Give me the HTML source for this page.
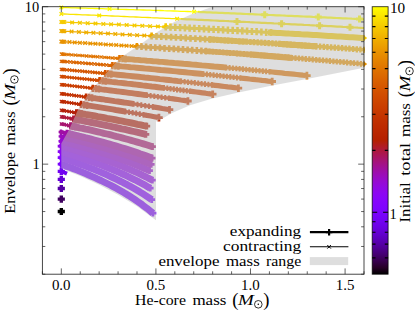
<!DOCTYPE html>
<html><head><meta charset="utf-8"><style>html,body{margin:0;padding:0;background:#fff}</style></head><body><svg width="415" height="311" viewBox="0 0 415 311" style="display:block">
<rect width="415" height="311" fill="#fff"/>
<defs><clipPath id="ax"><rect x="42.4" y="4.7" width="322.1" height="269.5"/></clipPath></defs>
<g clip-path="url(#ax)">
<path d="M59.4 162.2L63.2 166.0M59.4 166.0L63.2 162.2" stroke="#7b03fd" stroke-width="1.0" fill="none"/>
<path d="M59.4 155.7L63.2 159.5M59.4 159.5L63.2 155.7" stroke="#8305fe" stroke-width="1.0" fill="none"/>
<path d="M59.4 149.8L63.2 153.6M59.4 153.6L63.2 149.8" stroke="#8a06f6" stroke-width="1.0" fill="none"/>
<path d="M59.4 144.3L63.2 148.1M59.4 148.1L63.2 144.3" stroke="#9008e7" stroke-width="1.0" fill="none"/>
<polyline points="61.3,141.1 61.3,141.1 61.4,141.2 61.4,141.2 61.4,141.2 61.5,141.2 61.5,141.2 61.5,141.2 61.5,141.2 61.6,141.2 61.6,141.2 61.6,141.2 61.7,141.2 61.7,141.2 61.7,141.2 61.7,141.2 61.8,141.3 61.8,141.3 61.8,141.3 61.8,141.3 61.9,141.3 61.9,141.3 61.9,141.3 62.0,141.3 62.0,141.3 62.0,141.3 62.0,141.3 62.1,141.3 62.1,141.3 62.1,141.3 62.2,141.4 62.2,141.4 62.2,141.4 62.2,141.4 62.3,141.4 62.3,141.4 62.3,141.4 62.3,141.4 62.4,141.4 62.4,141.4 62.4,141.4" fill="none" stroke="#950ad4" stroke-width="1.3"/>
<path d="M59.8 139.6L62.9 142.7M59.8 142.7L62.9 139.6" stroke="#950ad4" stroke-width="1.1" fill="none"/>
<polyline points="61.3,136.4 61.4,136.4 61.5,136.5 61.6,136.5 61.7,136.5 61.7,136.5 61.8,136.5 61.9,136.6 62.0,136.6 62.1,136.6 62.2,136.6 62.2,136.6 62.3,136.7 62.4,136.7 62.5,136.7 62.6,136.7 62.7,136.7 62.7,136.8 62.8,136.8 62.9,136.8 63.0,136.8 63.1,136.8 63.2,136.9 63.2,136.9 63.3,136.9 63.4,136.9 63.5,136.9 63.6,137.0 63.7,137.0 63.7,137.0 63.8,137.0 63.9,137.0 64.0,137.1 64.1,137.1 64.2,137.1 64.2,137.1 64.3,137.2 64.4,137.2 64.5,137.2 64.6,137.2 64.7,137.2" fill="none" stroke="#9a0dbd" stroke-width="1.3"/>
<path d="M59.8 134.9L62.9 138.0M59.8 138.0L62.9 134.9" stroke="#9a0dbd" stroke-width="1.1" fill="none"/>
<path d="M60.7 135.1L63.8 138.2M60.7 138.2L63.8 135.1" stroke="#9a0dbd" stroke-width="1.1" fill="none"/>
<path d="M61.7 135.3L64.8 138.4M61.7 138.4L64.8 135.3" stroke="#9a0dbd" stroke-width="1.1" fill="none"/>
<path d="M62.8 135.6L65.9 138.7M62.8 138.7L65.9 135.6" stroke="#9a0dbd" stroke-width="1.1" fill="none"/>
<path d="M63.1 135.7L66.2 138.8M63.1 138.8L66.2 135.7" stroke="#9a0dbd" stroke-width="1.1" fill="none"/>
<polyline points="61.3,132.0 61.5,132.0 61.6,132.1 61.7,132.1 61.9,132.1 62.0,132.2 62.2,132.2 62.3,132.2 62.4,132.3 62.6,132.3 62.7,132.3 62.8,132.4 63.0,132.4 63.1,132.4 63.3,132.5 63.4,132.5 63.5,132.5 63.7,132.5 63.8,132.6 64.0,132.6 64.1,132.6 64.2,132.7 64.4,132.7 64.5,132.7 64.7,132.8 64.8,132.8 64.9,132.8 65.1,132.9 65.2,132.9 65.4,132.9 65.5,133.0 65.6,133.0 65.8,133.0 65.9,133.1 66.0,133.1 66.2,133.1 66.3,133.2 66.5,133.2 66.6,133.2 66.7,133.2 66.9,133.3" fill="none" stroke="#9f0fa5" stroke-width="1.3"/>
<path d="M59.8 130.5L62.9 133.6M59.8 133.6L62.9 130.5" stroke="#9f0fa5" stroke-width="1.1" fill="none"/>
<path d="M60.7 130.7L63.8 133.8M60.7 133.8L63.8 130.7" stroke="#9f0fa5" stroke-width="1.1" fill="none"/>
<path d="M61.7 130.9L64.8 134.0M61.7 134.0L64.8 130.9" stroke="#9f0fa5" stroke-width="1.1" fill="none"/>
<path d="M62.8 131.1L65.9 134.2M62.8 134.2L65.9 131.1" stroke="#9f0fa5" stroke-width="1.1" fill="none"/>
<path d="M64.1 131.4L67.2 134.5M64.1 134.5L67.2 131.4" stroke="#9f0fa5" stroke-width="1.1" fill="none"/>
<path d="M65.3 131.7L68.4 134.8M65.3 134.8L68.4 131.7" stroke="#9f0fa5" stroke-width="1.1" fill="none"/>
<polyline points="61.3,124.0 61.5,124.0 61.8,124.0 62.0,124.1 62.2,124.1 62.5,124.2 62.7,124.2 62.9,124.3 63.2,124.3 63.4,124.4 63.6,124.4 63.8,124.5 64.1,124.5 64.3,124.6 64.5,124.6 64.8,124.7 65.0,124.7 65.2,124.7 65.5,124.8 65.7,124.8 65.9,124.9 66.1,124.9 66.4,125.0 66.6,125.0 66.8,125.1 67.1,125.1 67.3,125.2 67.5,125.2 67.8,125.3 68.0,125.3 68.2,125.4 68.4,125.4 68.7,125.5 68.9,125.5 69.1,125.5 69.4,125.6 69.6,125.6 69.8,125.7 70.1,125.7 70.3,125.8 70.5,125.8" fill="none" stroke="#a71470" stroke-width="1.3"/>
<path d="M59.8 122.4L62.9 125.5M59.8 125.5L62.9 122.4" stroke="#a71470" stroke-width="1.1" fill="none"/>
<path d="M60.7 122.6L63.8 125.7M60.7 125.7L63.8 122.6" stroke="#a71470" stroke-width="1.1" fill="none"/>
<path d="M61.7 122.8L64.8 125.9M61.7 125.9L64.8 122.8" stroke="#a71470" stroke-width="1.1" fill="none"/>
<path d="M62.8 123.0L65.9 126.1M62.8 126.1L65.9 123.0" stroke="#a71470" stroke-width="1.1" fill="none"/>
<path d="M64.8 123.4L67.9 126.5M64.8 126.5L67.9 123.4" stroke="#a71470" stroke-width="1.1" fill="none"/>
<path d="M66.9 123.9L70.0 127.0M66.9 127.0L70.0 123.9" stroke="#a71470" stroke-width="1.1" fill="none"/>
<path d="M69.0 124.3L72.1 127.4M69.0 127.4L72.1 124.3" stroke="#a71470" stroke-width="1.1" fill="none"/>
<polyline points="61.3,116.8 61.6,116.8 61.9,116.9 62.2,116.9 62.5,117.0 62.8,117.0 63.1,117.1 63.4,117.1 63.7,117.2 64.1,117.2 64.4,117.3 64.7,117.4 65.0,117.4 65.3,117.5 65.6,117.5 65.9,117.6 66.2,117.6 66.5,117.7 66.8,117.7 67.1,117.8 67.4,117.9 67.7,117.9 68.0,118.0 68.3,118.0 68.6,118.1 68.9,118.1 69.2,118.2 69.5,118.3 69.8,118.3 70.1,118.4 70.4,118.4 70.7,118.5 71.0,118.5 71.3,118.6 71.6,118.6 71.9,118.7 72.3,118.8 72.6,118.8 72.9,118.9 73.2,118.9 73.5,119.0" fill="none" stroke="#ad193b" stroke-width="1.3"/>
<path d="M59.8 115.2L62.9 118.3M59.8 118.3L62.9 115.2" stroke="#ad193b" stroke-width="1.1" fill="none"/>
<path d="M60.7 115.4L63.8 118.5M60.7 118.5L63.8 115.4" stroke="#ad193b" stroke-width="1.1" fill="none"/>
<path d="M61.7 115.5L64.8 118.6M61.7 118.6L64.8 115.5" stroke="#ad193b" stroke-width="1.1" fill="none"/>
<path d="M62.8 115.8L65.9 118.9M62.8 118.9L65.9 115.8" stroke="#ad193b" stroke-width="1.1" fill="none"/>
<path d="M65.1 116.2L68.2 119.3M65.1 119.3L68.2 116.2" stroke="#ad193b" stroke-width="1.1" fill="none"/>
<path d="M67.4 116.6L70.5 119.7M67.4 119.7L70.5 116.6" stroke="#ad193b" stroke-width="1.1" fill="none"/>
<path d="M69.6 117.0L72.7 120.1M69.6 120.1L72.7 117.0" stroke="#ad193b" stroke-width="1.1" fill="none"/>
<path d="M71.9 117.4L75.0 120.5M71.9 120.5L75.0 117.4" stroke="#ad193b" stroke-width="1.1" fill="none"/>
<polyline points="61.3,110.2 61.7,110.3 62.1,110.4 62.5,110.4 62.8,110.5 63.2,110.5 63.6,110.6 64.0,110.7 64.3,110.7 64.7,110.8 65.1,110.9 65.5,110.9 65.8,111.0 66.2,111.0 66.6,111.1 67.0,111.2 67.4,111.2 67.7,111.3 68.1,111.4 68.5,111.4 68.9,111.5 69.2,111.6 69.6,111.6 70.0,111.7 70.4,111.7 70.8,111.8 71.1,111.9 71.5,111.9 71.9,112.0 72.3,112.1 72.6,112.1 73.0,112.2 73.4,112.3 73.8,112.3 74.2,112.4 74.5,112.4 74.9,112.5 75.3,112.6 75.7,112.6 76.0,112.7 76.4,112.8" fill="none" stroke="#b31f09" stroke-width="1.3"/>
<path d="M59.8 108.7L62.9 111.8M59.8 111.8L62.9 108.7" stroke="#b31f09" stroke-width="1.1" fill="none"/>
<path d="M60.7 108.8L63.8 111.9M60.7 111.9L63.8 108.8" stroke="#b31f09" stroke-width="1.1" fill="none"/>
<path d="M61.7 109.0L64.8 112.1M61.7 112.1L64.8 109.0" stroke="#b31f09" stroke-width="1.1" fill="none"/>
<path d="M62.8 109.2L65.9 112.3M62.8 112.3L65.9 109.2" stroke="#b31f09" stroke-width="1.1" fill="none"/>
<path d="M65.2 109.6L68.3 112.7M65.2 112.7L68.3 109.6" stroke="#b31f09" stroke-width="1.1" fill="none"/>
<path d="M67.6 110.0L70.7 113.1M67.6 113.1L70.7 110.0" stroke="#b31f09" stroke-width="1.1" fill="none"/>
<path d="M70.0 110.4L73.1 113.5M70.0 113.5L73.1 110.4" stroke="#b31f09" stroke-width="1.1" fill="none"/>
<path d="M72.5 110.8L75.6 113.9M72.5 113.9L75.6 110.8" stroke="#b31f09" stroke-width="1.1" fill="none"/>
<path d="M74.9 111.2L78.0 114.3M74.9 114.3L78.0 111.2" stroke="#b31f09" stroke-width="1.1" fill="none"/>
<polyline points="61.3,101.5 61.8,101.6 62.3,101.6 62.8,101.7 63.3,101.8 63.8,101.9 64.3,101.9 64.8,102.0 65.3,102.1 65.8,102.1 66.3,102.2 66.8,102.3 67.3,102.4 67.8,102.4 68.3,102.5 68.8,102.6 69.2,102.7 69.7,102.7 70.2,102.8 70.7,102.9 71.2,102.9 71.7,103.0 72.2,103.1 72.7,103.2 73.2,103.2 73.7,103.3 74.2,103.4 74.7,103.5 75.2,103.5 75.7,103.6 76.2,103.7 76.7,103.8 77.2,103.8 77.7,103.9 78.2,104.0 78.7,104.1 79.2,104.1 79.7,104.2 80.2,104.3 80.6,104.4 81.1,104.4" fill="none" stroke="#bb2800" stroke-width="1.3"/>
<path d="M59.8 99.9L62.9 103.0M59.8 103.0L62.9 99.9" stroke="#bb2800" stroke-width="1.1" fill="none"/>
<path d="M60.7 100.1L63.8 103.2M60.7 103.2L63.8 100.1" stroke="#bb2800" stroke-width="1.1" fill="none"/>
<path d="M61.7 100.2L64.8 103.3M61.7 103.3L64.8 100.2" stroke="#bb2800" stroke-width="1.1" fill="none"/>
<path d="M62.8 100.4L65.9 103.5M62.8 103.5L65.9 100.4" stroke="#bb2800" stroke-width="1.1" fill="none"/>
<path d="M65.2 100.7L68.3 103.8M65.2 103.8L68.3 100.7" stroke="#bb2800" stroke-width="1.1" fill="none"/>
<path d="M67.6 101.1L70.7 104.2M67.6 104.2L70.7 101.1" stroke="#bb2800" stroke-width="1.1" fill="none"/>
<path d="M70.0 101.4L73.1 104.5M70.0 104.5L73.1 101.4" stroke="#bb2800" stroke-width="1.1" fill="none"/>
<path d="M72.4 101.8L75.5 104.9M72.4 104.9L75.5 101.8" stroke="#bb2800" stroke-width="1.1" fill="none"/>
<path d="M74.8 102.2L77.9 105.3M74.8 105.3L77.9 102.2" stroke="#bb2800" stroke-width="1.1" fill="none"/>
<path d="M77.2 102.5L80.3 105.6M77.2 105.6L80.3 102.5" stroke="#bb2800" stroke-width="1.1" fill="none"/>
<path d="M79.6 102.9L82.7 106.0M79.6 106.0L82.7 102.9" stroke="#bb2800" stroke-width="1.1" fill="none"/>
<polyline points="61.3,93.7 61.9,93.8 62.6,93.9 63.2,94.0 63.8,94.1 64.4,94.1 65.0,94.2 65.7,94.3 66.3,94.4 66.9,94.5 67.5,94.5 68.1,94.6 68.7,94.7 69.4,94.8 70.0,94.9 70.6,95.0 71.2,95.0 71.8,95.1 72.5,95.2 73.1,95.3 73.7,95.4 74.3,95.4 74.9,95.5 75.6,95.6 76.2,95.7 76.8,95.8 77.4,95.9 78.0,95.9 78.7,96.0 79.3,96.1 79.9,96.2 80.5,96.3 81.1,96.4 81.8,96.4 82.4,96.5 83.0,96.6 83.6,96.7 84.2,96.8 84.8,96.9 85.5,96.9 86.1,97.0" fill="none" stroke="#c13000" stroke-width="1.3"/>
<path d="M59.8 92.2L62.9 95.3M59.8 95.3L62.9 92.2" stroke="#c13000" stroke-width="1.1" fill="none"/>
<path d="M60.7 92.3L63.8 95.4M60.7 95.4L63.8 92.3" stroke="#c13000" stroke-width="1.1" fill="none"/>
<path d="M61.7 92.4L64.8 95.5M61.7 95.5L64.8 92.4" stroke="#c13000" stroke-width="1.1" fill="none"/>
<path d="M62.8 92.6L65.9 95.7M62.8 95.7L65.9 92.6" stroke="#c13000" stroke-width="1.1" fill="none"/>
<path d="M65.2 92.9L68.3 96.0M65.2 96.0L68.3 92.9" stroke="#c13000" stroke-width="1.1" fill="none"/>
<path d="M67.6 93.2L70.7 96.3M67.6 96.3L70.7 93.2" stroke="#c13000" stroke-width="1.1" fill="none"/>
<path d="M70.0 93.5L73.1 96.6M70.0 96.6L73.1 93.5" stroke="#c13000" stroke-width="1.1" fill="none"/>
<path d="M72.5 93.9L75.6 97.0M72.5 97.0L75.6 93.9" stroke="#c13000" stroke-width="1.1" fill="none"/>
<path d="M74.9 94.2L78.0 97.3M74.9 97.3L78.0 94.2" stroke="#c13000" stroke-width="1.1" fill="none"/>
<path d="M77.3 94.5L80.4 97.6M77.3 97.6L80.4 94.5" stroke="#c13000" stroke-width="1.1" fill="none"/>
<path d="M79.7 94.8L82.8 97.9M79.7 97.9L82.8 94.8" stroke="#c13000" stroke-width="1.1" fill="none"/>
<path d="M82.1 95.2L85.2 98.3M82.1 98.3L85.2 95.2" stroke="#c13000" stroke-width="1.1" fill="none"/>
<path d="M84.5 95.5L87.6 98.6M84.5 98.6L87.6 95.5" stroke="#c13000" stroke-width="1.1" fill="none"/>
<polyline points="61.3,84.6 62.1,84.7 62.9,84.8 63.7,84.9 64.5,85.0 65.2,85.1 66.0,85.1 66.8,85.2 67.6,85.3 68.4,85.4 69.2,85.5 70.0,85.6 70.8,85.7 71.5,85.8 72.3,85.9 73.1,86.0 73.9,86.1 74.7,86.1 75.5,86.2 76.3,86.3 77.0,86.4 77.8,86.5 78.6,86.6 79.4,86.7 80.2,86.8 81.0,86.9 81.8,87.0 82.5,87.1 83.3,87.2 84.1,87.2 84.9,87.3 85.7,87.4 86.5,87.5 87.3,87.6 88.0,87.7 88.8,87.8 89.6,87.9 90.4,88.0 91.2,88.1 92.0,88.2 92.8,88.3" fill="none" stroke="#c93d00" stroke-width="1.3"/>
<path d="M59.8 83.1L62.9 86.2M59.8 86.2L62.9 83.1" stroke="#c93d00" stroke-width="1.1" fill="none"/>
<path d="M60.7 83.2L63.8 86.3M60.7 86.3L63.8 83.2" stroke="#c93d00" stroke-width="1.1" fill="none"/>
<path d="M61.7 83.3L64.8 86.4M61.7 86.4L64.8 83.3" stroke="#c93d00" stroke-width="1.1" fill="none"/>
<path d="M62.8 83.4L65.9 86.5M62.8 86.5L65.9 83.4" stroke="#c93d00" stroke-width="1.1" fill="none"/>
<path d="M65.4 83.7L68.5 86.8M65.4 86.8L68.5 83.7" stroke="#c93d00" stroke-width="1.1" fill="none"/>
<path d="M68.0 84.0L71.1 87.1M68.0 87.1L71.1 84.0" stroke="#c93d00" stroke-width="1.1" fill="none"/>
<path d="M70.5 84.3L73.6 87.4M70.5 87.4L73.6 84.3" stroke="#c93d00" stroke-width="1.1" fill="none"/>
<path d="M73.1 84.6L76.2 87.7M73.1 87.7L76.2 84.6" stroke="#c93d00" stroke-width="1.1" fill="none"/>
<path d="M75.7 84.9L78.8 88.0M75.7 88.0L78.8 84.9" stroke="#c93d00" stroke-width="1.1" fill="none"/>
<path d="M78.3 85.2L81.4 88.3M78.3 88.3L81.4 85.2" stroke="#c93d00" stroke-width="1.1" fill="none"/>
<path d="M80.9 85.5L84.0 88.6M80.9 88.6L84.0 85.5" stroke="#c93d00" stroke-width="1.1" fill="none"/>
<path d="M83.5 85.8L86.6 88.9M83.5 88.9L86.6 85.8" stroke="#c93d00" stroke-width="1.1" fill="none"/>
<path d="M86.0 86.1L89.1 89.2M86.0 89.2L89.1 86.1" stroke="#c93d00" stroke-width="1.1" fill="none"/>
<path d="M88.6 86.4L91.7 89.5M88.6 89.5L91.7 86.4" stroke="#c93d00" stroke-width="1.1" fill="none"/>
<path d="M91.2 86.7L94.3 89.8M91.2 89.8L94.3 86.7" stroke="#c93d00" stroke-width="1.1" fill="none"/>
<polyline points="61.3,76.6 62.3,76.7 63.2,76.8 64.2,76.8 65.1,76.9 66.1,77.0 67.1,77.1 68.0,77.2 69.0,77.3 69.9,77.4 70.9,77.5 71.8,77.6 72.8,77.7 73.8,77.8 74.7,77.9 75.7,78.0 76.6,78.1 77.6,78.2 78.5,78.3 79.5,78.4 80.5,78.5 81.4,78.6 82.4,78.7 83.3,78.8 84.3,78.9 85.2,79.0 86.2,79.1 87.1,79.2 88.1,79.3 89.1,79.4 90.0,79.5 91.0,79.6 91.9,79.7 92.9,79.8 93.8,79.9 94.8,80.0 95.8,80.1 96.7,80.2 97.7,80.3 98.6,80.4 99.6,80.5" fill="none" stroke="#cf4900" stroke-width="1.3"/>
<path d="M59.8 75.0L62.9 78.1M59.8 78.1L62.9 75.0" stroke="#cf4900" stroke-width="1.1" fill="none"/>
<path d="M60.7 75.1L63.8 78.2M60.7 78.2L63.8 75.1" stroke="#cf4900" stroke-width="1.1" fill="none"/>
<path d="M61.7 75.2L64.8 78.3M61.7 78.3L64.8 75.2" stroke="#cf4900" stroke-width="1.1" fill="none"/>
<path d="M62.8 75.3L65.9 78.4M62.8 78.4L65.9 75.3" stroke="#cf4900" stroke-width="1.1" fill="none"/>
<path d="M65.3 75.6L68.4 78.7M65.3 78.7L68.4 75.6" stroke="#cf4900" stroke-width="1.1" fill="none"/>
<path d="M67.8 75.8L70.9 78.9M67.8 78.9L70.9 75.8" stroke="#cf4900" stroke-width="1.1" fill="none"/>
<path d="M70.3 76.1L73.4 79.2M70.3 79.2L73.4 76.1" stroke="#cf4900" stroke-width="1.1" fill="none"/>
<path d="M72.9 76.3L76.0 79.4M72.9 79.4L76.0 76.3" stroke="#cf4900" stroke-width="1.1" fill="none"/>
<path d="M75.4 76.6L78.5 79.7M75.4 79.7L78.5 76.6" stroke="#cf4900" stroke-width="1.1" fill="none"/>
<path d="M77.9 76.9L81.0 80.0M77.9 80.0L81.0 76.9" stroke="#cf4900" stroke-width="1.1" fill="none"/>
<path d="M80.4 77.1L83.5 80.2M80.4 80.2L83.5 77.1" stroke="#cf4900" stroke-width="1.1" fill="none"/>
<path d="M82.9 77.4L86.0 80.5M82.9 80.5L86.0 77.4" stroke="#cf4900" stroke-width="1.1" fill="none"/>
<path d="M85.5 77.6L88.6 80.7M85.5 80.7L88.6 77.6" stroke="#cf4900" stroke-width="1.1" fill="none"/>
<path d="M88.0 77.9L91.1 81.0M88.0 81.0L91.1 77.9" stroke="#cf4900" stroke-width="1.1" fill="none"/>
<path d="M90.5 78.2L93.6 81.3M90.5 81.3L93.6 78.2" stroke="#cf4900" stroke-width="1.1" fill="none"/>
<path d="M93.0 78.4L96.1 81.5M93.0 81.5L96.1 78.4" stroke="#cf4900" stroke-width="1.1" fill="none"/>
<path d="M95.5 78.7L98.6 81.8M95.5 81.8L98.6 78.7" stroke="#cf4900" stroke-width="1.1" fill="none"/>
<path d="M98.0 79.0L101.1 82.1M98.0 82.1L101.1 79.0" stroke="#cf4900" stroke-width="1.1" fill="none"/>
<polyline points="61.3,69.4 62.4,69.5 63.5,69.6 64.6,69.7 65.7,69.8 66.8,69.9 67.9,70.0 69.0,70.1 70.1,70.2 71.2,70.3 72.3,70.4 73.4,70.5 74.5,70.6 75.6,70.7 76.7,70.8 77.8,70.9 78.9,71.0 80.0,71.1 81.1,71.2 82.2,71.3 83.3,71.4 84.4,71.5 85.5,71.6 86.6,71.7 87.7,71.8 88.8,71.9 89.9,72.0 91.0,72.1 92.1,72.2 93.2,72.3 94.3,72.4 95.4,72.5 96.5,72.6 97.6,72.7 98.7,72.8 99.8,72.9 100.9,73.1 102.0,73.2 103.1,73.3 104.2,73.4 105.3,73.5" fill="none" stroke="#d45500" stroke-width="1.3"/>
<path d="M59.8 67.8L62.9 70.9M59.8 70.9L62.9 67.8" stroke="#d45500" stroke-width="1.1" fill="none"/>
<path d="M60.7 67.9L63.8 71.0M60.7 71.0L63.8 67.9" stroke="#d45500" stroke-width="1.1" fill="none"/>
<path d="M61.7 68.0L64.8 71.1M61.7 71.1L64.8 68.0" stroke="#d45500" stroke-width="1.1" fill="none"/>
<path d="M62.8 68.1L65.9 71.2M62.8 71.2L65.9 68.1" stroke="#d45500" stroke-width="1.1" fill="none"/>
<path d="M65.4 68.3L68.5 71.4M65.4 71.4L68.5 68.3" stroke="#d45500" stroke-width="1.1" fill="none"/>
<path d="M67.9 68.5L71.0 71.6M67.9 71.6L71.0 68.5" stroke="#d45500" stroke-width="1.1" fill="none"/>
<path d="M70.5 68.8L73.6 71.9M70.5 71.9L73.6 68.8" stroke="#d45500" stroke-width="1.1" fill="none"/>
<path d="M73.0 69.0L76.1 72.1M73.0 72.1L76.1 69.0" stroke="#d45500" stroke-width="1.1" fill="none"/>
<path d="M75.6 69.3L78.7 72.4M75.6 72.4L78.7 69.3" stroke="#d45500" stroke-width="1.1" fill="none"/>
<path d="M78.2 69.5L81.3 72.6M78.2 72.6L81.3 69.5" stroke="#d45500" stroke-width="1.1" fill="none"/>
<path d="M80.7 69.7L83.8 72.8M80.7 72.8L83.8 69.7" stroke="#d45500" stroke-width="1.1" fill="none"/>
<path d="M83.3 70.0L86.4 73.1M83.3 73.1L86.4 70.0" stroke="#d45500" stroke-width="1.1" fill="none"/>
<path d="M85.9 70.2L89.0 73.3M85.9 73.3L89.0 70.2" stroke="#d45500" stroke-width="1.1" fill="none"/>
<path d="M88.4 70.5L91.5 73.6M88.4 73.6L91.5 70.5" stroke="#d45500" stroke-width="1.1" fill="none"/>
<path d="M91.0 70.7L94.1 73.8M91.0 73.8L94.1 70.7" stroke="#d45500" stroke-width="1.1" fill="none"/>
<path d="M93.5 70.9L96.6 74.0M93.5 74.0L96.6 70.9" stroke="#d45500" stroke-width="1.1" fill="none"/>
<path d="M96.1 71.2L99.2 74.3M96.1 74.3L99.2 71.2" stroke="#d45500" stroke-width="1.1" fill="none"/>
<path d="M98.7 71.4L101.8 74.5M98.7 74.5L101.8 71.4" stroke="#d45500" stroke-width="1.1" fill="none"/>
<path d="M101.2 71.7L104.3 74.8M101.2 74.8L104.3 71.7" stroke="#d45500" stroke-width="1.1" fill="none"/>
<path d="M103.8 71.9L106.9 75.0M103.8 75.0L106.9 71.9" stroke="#d45500" stroke-width="1.1" fill="none"/>
<polyline points="61.3,61.3 62.6,61.4 63.9,61.5 65.2,61.6 66.4,61.7 67.7,61.8 69.0,61.9 70.3,62.0 71.5,62.1 72.8,62.2 74.1,62.3 75.4,62.4 76.7,62.5 77.9,62.7 79.2,62.8 80.5,62.9 81.8,63.0 83.0,63.1 84.3,63.2 85.6,63.3 86.9,63.4 88.2,63.5 89.4,63.6 90.7,63.7 92.0,63.8 93.3,63.9 94.5,64.0 95.8,64.1 97.1,64.3 98.4,64.4 99.7,64.5 100.9,64.6 102.2,64.7 103.5,64.8 104.8,64.9 106.0,65.0 107.3,65.1 108.6,65.2 109.9,65.3 111.2,65.5 112.4,65.6" fill="none" stroke="#da6500" stroke-width="1.3"/>
<path d="M59.8 59.8L62.9 62.9M59.8 62.9L62.9 59.8" stroke="#da6500" stroke-width="1.1" fill="none"/>
<path d="M60.7 59.8L63.8 62.9M60.7 62.9L63.8 59.8" stroke="#da6500" stroke-width="1.1" fill="none"/>
<path d="M61.7 59.9L64.8 63.0M61.7 63.0L64.8 59.9" stroke="#da6500" stroke-width="1.1" fill="none"/>
<path d="M62.8 60.0L65.9 63.1M62.8 63.1L65.9 60.0" stroke="#da6500" stroke-width="1.1" fill="none"/>
<path d="M65.8 60.2L68.9 63.3M65.8 63.3L68.9 60.2" stroke="#da6500" stroke-width="1.1" fill="none"/>
<path d="M68.8 60.5L71.9 63.6M68.8 63.6L71.9 60.5" stroke="#da6500" stroke-width="1.1" fill="none"/>
<path d="M71.8 60.7L74.9 63.8M71.8 63.8L74.9 60.7" stroke="#da6500" stroke-width="1.1" fill="none"/>
<path d="M74.8 61.0L77.9 64.1M74.8 64.1L77.9 61.0" stroke="#da6500" stroke-width="1.1" fill="none"/>
<path d="M77.8 61.2L80.9 64.3M77.8 64.3L80.9 61.2" stroke="#da6500" stroke-width="1.1" fill="none"/>
<path d="M80.8 61.5L83.9 64.6M80.8 64.6L83.9 61.5" stroke="#da6500" stroke-width="1.1" fill="none"/>
<path d="M83.8 61.7L86.9 64.8M83.8 64.8L86.9 61.7" stroke="#da6500" stroke-width="1.1" fill="none"/>
<path d="M86.8 62.0L89.9 65.1M86.8 65.1L89.9 62.0" stroke="#da6500" stroke-width="1.1" fill="none"/>
<path d="M89.8 62.2L92.9 65.3M89.8 65.3L92.9 62.2" stroke="#da6500" stroke-width="1.1" fill="none"/>
<path d="M92.9 62.5L96.0 65.6M92.9 65.6L96.0 62.5" stroke="#da6500" stroke-width="1.1" fill="none"/>
<path d="M95.9 62.7L99.0 65.8M95.9 65.8L99.0 62.7" stroke="#da6500" stroke-width="1.1" fill="none"/>
<path d="M98.9 63.0L102.0 66.1M98.9 66.1L102.0 63.0" stroke="#da6500" stroke-width="1.1" fill="none"/>
<path d="M101.9 63.2L105.0 66.3M101.9 66.3L105.0 63.2" stroke="#da6500" stroke-width="1.1" fill="none"/>
<path d="M104.9 63.5L108.0 66.6M104.9 66.6L108.0 63.5" stroke="#da6500" stroke-width="1.1" fill="none"/>
<path d="M107.9 63.8L111.0 66.9M107.9 66.9L111.0 63.8" stroke="#da6500" stroke-width="1.1" fill="none"/>
<path d="M110.9 64.0L114.0 67.1M110.9 67.1L114.0 64.0" stroke="#da6500" stroke-width="1.1" fill="none"/>
<polyline points="61.3,54.1 62.8,54.2 64.2,54.3 65.7,54.4 67.1,54.5 68.6,54.6 70.1,54.7 71.5,54.8 73.0,54.9 74.4,55.1 75.9,55.2 77.3,55.3 78.8,55.4 80.2,55.5 81.7,55.6 83.1,55.7 84.6,55.8 86.1,55.9 87.5,56.0 89.0,56.1 90.4,56.2 91.9,56.4 93.3,56.5 94.8,56.6 96.2,56.7 97.7,56.8 99.2,56.9 100.6,57.0 102.1,57.1 103.5,57.2 105.0,57.4 106.4,57.5 107.9,57.6 109.3,57.7 110.8,57.8 112.3,57.9 113.7,58.0 115.2,58.1 116.6,58.3 118.1,58.4 119.5,58.5" fill="none" stroke="#e07400" stroke-width="1.3"/>
<path d="M59.8 52.5L62.9 55.6M59.8 55.6L62.9 52.5" stroke="#e07400" stroke-width="1.1" fill="none"/>
<path d="M60.7 52.6L63.8 55.7M60.7 55.7L63.8 52.6" stroke="#e07400" stroke-width="1.1" fill="none"/>
<path d="M61.7 52.7L64.8 55.8M61.7 55.8L64.8 52.7" stroke="#e07400" stroke-width="1.1" fill="none"/>
<path d="M62.8 52.8L65.9 55.9M62.8 55.9L65.9 52.8" stroke="#e07400" stroke-width="1.1" fill="none"/>
<path d="M66.5 53.0L69.6 56.1M66.5 56.1L69.6 53.0" stroke="#e07400" stroke-width="1.1" fill="none"/>
<path d="M70.2 53.3L73.3 56.4M70.2 56.4L73.3 53.3" stroke="#e07400" stroke-width="1.1" fill="none"/>
<path d="M73.8 53.6L76.9 56.7M73.8 56.7L76.9 53.6" stroke="#e07400" stroke-width="1.1" fill="none"/>
<path d="M77.5 53.8L80.6 56.9M77.5 56.9L80.6 53.8" stroke="#e07400" stroke-width="1.1" fill="none"/>
<path d="M81.2 54.1L84.3 57.2M81.2 57.2L84.3 54.1" stroke="#e07400" stroke-width="1.1" fill="none"/>
<path d="M84.9 54.4L88.0 57.5M84.9 57.5L88.0 54.4" stroke="#e07400" stroke-width="1.1" fill="none"/>
<path d="M88.6 54.7L91.7 57.8M88.6 57.8L91.7 54.7" stroke="#e07400" stroke-width="1.1" fill="none"/>
<path d="M92.2 54.9L95.3 58.0M92.2 58.0L95.3 54.9" stroke="#e07400" stroke-width="1.1" fill="none"/>
<path d="M95.9 55.2L99.0 58.3M95.9 58.3L99.0 55.2" stroke="#e07400" stroke-width="1.1" fill="none"/>
<path d="M99.6 55.5L102.7 58.6M99.6 58.6L102.7 55.5" stroke="#e07400" stroke-width="1.1" fill="none"/>
<path d="M103.3 55.8L106.4 58.9M103.3 58.9L106.4 55.8" stroke="#e07400" stroke-width="1.1" fill="none"/>
<path d="M106.9 56.1L110.0 59.2M106.9 59.2L110.0 56.1" stroke="#e07400" stroke-width="1.1" fill="none"/>
<path d="M110.6 56.4L113.7 59.5M110.6 59.5L113.7 56.4" stroke="#e07400" stroke-width="1.1" fill="none"/>
<path d="M114.3 56.6L117.4 59.7M114.3 59.7L117.4 56.6" stroke="#e07400" stroke-width="1.1" fill="none"/>
<path d="M118.0 56.9L121.1 60.0M118.0 60.0L121.1 56.9" stroke="#e07400" stroke-width="1.1" fill="none"/>
<polyline points="61.3,41.6 63.2,41.7 65.1,41.9 67.0,42.0 68.9,42.1 70.8,42.2 72.7,42.3 74.5,42.4 76.4,42.5 78.3,42.7 80.2,42.8 82.1,42.9 84.0,43.0 85.9,43.1 87.8,43.2 89.7,43.4 91.6,43.5 93.4,43.6 95.3,43.7 97.2,43.8 99.1,44.0 101.0,44.1 102.9,44.2 104.8,44.3 106.7,44.4 108.6,44.6 110.5,44.7 112.3,44.8 114.2,44.9 116.1,45.0 118.0,45.2 119.9,45.3 121.8,45.4 123.7,45.5 125.6,45.7 127.5,45.8 129.4,45.9 131.2,46.0 133.1,46.2 135.0,46.3 136.9,46.4" fill="none" stroke="#e89200" stroke-width="1.3"/>
<path d="M59.5 39.8L63.1 43.4M59.5 43.4L63.1 39.8" stroke="#e89200" stroke-width="1.3" fill="none"/>
<path d="M60.5 39.9L64.1 43.5M60.5 43.5L64.1 39.9" stroke="#e89200" stroke-width="1.3" fill="none"/>
<path d="M61.4 39.9L65.0 43.5M61.4 43.5L65.0 39.9" stroke="#e89200" stroke-width="1.3" fill="none"/>
<path d="M62.5 40.0L66.1 43.6M62.5 43.6L66.1 40.0" stroke="#e89200" stroke-width="1.3" fill="none"/>
<path d="M67.7 40.3L71.3 43.9M67.7 43.9L71.3 40.3" stroke="#e89200" stroke-width="1.3" fill="none"/>
<path d="M72.9 40.6L76.5 44.2M72.9 44.2L76.5 40.6" stroke="#e89200" stroke-width="1.3" fill="none"/>
<path d="M78.1 41.0L81.7 44.6M78.1 44.6L81.7 41.0" stroke="#e89200" stroke-width="1.3" fill="none"/>
<path d="M83.3 41.3L86.9 44.9M83.3 44.9L86.9 41.3" stroke="#e89200" stroke-width="1.3" fill="none"/>
<path d="M88.5 41.6L92.1 45.2M88.5 45.2L92.1 41.6" stroke="#e89200" stroke-width="1.3" fill="none"/>
<path d="M93.6 41.9L97.2 45.5M93.6 45.5L97.2 41.9" stroke="#e89200" stroke-width="1.3" fill="none"/>
<path d="M98.8 42.3L102.4 45.9M98.8 45.9L102.4 42.3" stroke="#e89200" stroke-width="1.3" fill="none"/>
<path d="M104.0 42.6L107.6 46.2M104.0 46.2L107.6 42.6" stroke="#e89200" stroke-width="1.3" fill="none"/>
<path d="M109.2 42.9L112.8 46.5M109.2 46.5L112.8 42.9" stroke="#e89200" stroke-width="1.3" fill="none"/>
<path d="M114.4 43.2L118.0 46.8M114.4 46.8L118.0 43.2" stroke="#e89200" stroke-width="1.3" fill="none"/>
<path d="M119.6 43.6L123.2 47.2M119.6 47.2L123.2 43.6" stroke="#e89200" stroke-width="1.3" fill="none"/>
<path d="M124.7 43.9L128.3 47.5M124.7 47.5L128.3 43.9" stroke="#e89200" stroke-width="1.3" fill="none"/>
<path d="M129.9 44.3L133.5 47.9M129.9 47.9L133.5 44.3" stroke="#e89200" stroke-width="1.3" fill="none"/>
<path d="M135.1 44.6L138.7 48.2M135.1 48.2L138.7 44.6" stroke="#e89200" stroke-width="1.3" fill="none"/>
<polyline points="61.3,31.1 63.6,31.2 65.8,31.3 68.1,31.4 70.3,31.6 72.6,31.7 74.9,31.8 77.1,31.9 79.4,32.0 81.6,32.1 83.9,32.3 86.1,32.4 88.4,32.5 90.7,32.6 92.9,32.7 95.2,32.9 97.4,33.0 99.7,33.1 102.0,33.2 104.2,33.4 106.5,33.5 108.7,33.6 111.0,33.7 113.2,33.8 115.5,34.0 117.8,34.1 120.0,34.2 122.3,34.3 124.5,34.5 126.8,34.6 129.0,34.7 131.3,34.8 133.6,35.0 135.8,35.1 138.1,35.2 140.3,35.4 142.6,35.5 144.8,35.6 147.1,35.7 149.4,35.9 151.6,36.0" fill="none" stroke="#efae00" stroke-width="1.3"/>
<path d="M59.5 29.3L63.1 32.9M59.5 32.9L63.1 29.3" stroke="#efae00" stroke-width="1.3" fill="none"/>
<path d="M60.5 29.3L64.1 32.9M60.5 32.9L64.1 29.3" stroke="#efae00" stroke-width="1.3" fill="none"/>
<path d="M61.4 29.4L65.0 33.0M61.4 33.0L65.0 29.4" stroke="#efae00" stroke-width="1.3" fill="none"/>
<path d="M62.5 29.4L66.1 33.0M62.5 33.0L66.1 29.4" stroke="#efae00" stroke-width="1.3" fill="none"/>
<path d="M69.8 29.8L73.4 33.4M69.8 33.4L73.4 29.8" stroke="#efae00" stroke-width="1.3" fill="none"/>
<path d="M77.1 30.2L80.7 33.8M77.1 33.8L80.7 30.2" stroke="#efae00" stroke-width="1.3" fill="none"/>
<path d="M84.4 30.6L88.0 34.2M84.4 34.2L88.0 30.6" stroke="#efae00" stroke-width="1.3" fill="none"/>
<path d="M91.6 31.0L95.2 34.6M91.6 34.6L95.2 31.0" stroke="#efae00" stroke-width="1.3" fill="none"/>
<path d="M98.9 31.4L102.5 35.0M98.9 35.0L102.5 31.4" stroke="#efae00" stroke-width="1.3" fill="none"/>
<path d="M106.2 31.8L109.8 35.4M106.2 35.4L109.8 31.8" stroke="#efae00" stroke-width="1.3" fill="none"/>
<path d="M113.5 32.2L117.1 35.8M113.5 35.8L117.1 32.2" stroke="#efae00" stroke-width="1.3" fill="none"/>
<path d="M120.7 32.6L124.3 36.2M120.7 36.2L124.3 32.6" stroke="#efae00" stroke-width="1.3" fill="none"/>
<path d="M128.0 33.0L131.6 36.6M128.0 36.6L131.6 33.0" stroke="#efae00" stroke-width="1.3" fill="none"/>
<path d="M135.3 33.4L138.9 37.0M135.3 37.0L138.9 33.4" stroke="#efae00" stroke-width="1.3" fill="none"/>
<path d="M142.5 33.8L146.1 37.4M142.5 37.4L146.1 33.8" stroke="#efae00" stroke-width="1.3" fill="none"/>
<path d="M149.8 34.2L153.4 37.8M149.8 37.8L153.4 34.2" stroke="#efae00" stroke-width="1.3" fill="none"/>
<polyline points="61.3,22.0 63.9,22.1 66.5,22.2 69.1,22.3 71.8,22.4 74.4,22.6 77.0,22.7 79.6,22.8 82.2,22.9 84.8,23.0 87.4,23.2 90.0,23.3 92.6,23.4 95.2,23.5 97.9,23.6 100.5,23.8 103.1,23.9 105.7,24.0 108.3,24.1 110.9,24.3 113.5,24.4 116.1,24.5 118.7,24.6 121.3,24.8 124.0,24.9 126.6,25.0 129.2,25.1 131.8,25.3 134.4,25.4 137.0,25.5 139.6,25.6 142.2,25.8 144.8,25.9 147.4,26.0 150.1,26.2 152.7,26.3 155.3,26.4 157.9,26.5 160.5,26.7 163.1,26.8 165.7,26.9" fill="none" stroke="#f5ca00" stroke-width="1.3"/>
<path d="M59.5 20.2L63.1 23.8M59.5 23.8L63.1 20.2" stroke="#f5ca00" stroke-width="1.3" fill="none"/>
<path d="M60.5 20.2L64.1 23.8M60.5 23.8L64.1 20.2" stroke="#f5ca00" stroke-width="1.3" fill="none"/>
<path d="M61.4 20.2L65.0 23.8M61.4 23.8L65.0 20.2" stroke="#f5ca00" stroke-width="1.3" fill="none"/>
<path d="M62.5 20.3L66.1 23.9M62.5 23.9L66.1 20.3" stroke="#f5ca00" stroke-width="1.3" fill="none"/>
<path d="M70.3 20.7L73.9 24.3M70.3 24.3L73.9 20.7" stroke="#f5ca00" stroke-width="1.3" fill="none"/>
<path d="M78.1 21.0L81.7 24.6M78.1 24.6L81.7 21.0" stroke="#f5ca00" stroke-width="1.3" fill="none"/>
<path d="M85.9 21.4L89.5 25.0M85.9 25.0L89.5 21.4" stroke="#f5ca00" stroke-width="1.3" fill="none"/>
<path d="M93.7 21.7L97.3 25.3M93.7 25.3L97.3 21.7" stroke="#f5ca00" stroke-width="1.3" fill="none"/>
<path d="M101.5 22.1L105.1 25.7M101.5 25.7L105.1 22.1" stroke="#f5ca00" stroke-width="1.3" fill="none"/>
<path d="M109.3 22.5L112.9 26.1M109.3 26.1L112.9 22.5" stroke="#f5ca00" stroke-width="1.3" fill="none"/>
<path d="M117.1 22.8L120.7 26.4M117.1 26.4L120.7 22.8" stroke="#f5ca00" stroke-width="1.3" fill="none"/>
<path d="M124.9 23.2L128.5 26.8M124.9 26.8L128.5 23.2" stroke="#f5ca00" stroke-width="1.3" fill="none"/>
<path d="M132.7 23.6L136.3 27.2M132.7 27.2L136.3 23.6" stroke="#f5ca00" stroke-width="1.3" fill="none"/>
<path d="M140.5 24.0L144.1 27.6M140.5 27.6L144.1 24.0" stroke="#f5ca00" stroke-width="1.3" fill="none"/>
<path d="M148.3 24.4L151.9 28.0M148.3 28.0L151.9 24.4" stroke="#f5ca00" stroke-width="1.3" fill="none"/>
<path d="M156.1 24.7L159.7 28.3M156.1 28.3L159.7 24.7" stroke="#f5ca00" stroke-width="1.3" fill="none"/>
<path d="M163.9 25.1L167.5 28.7M163.9 28.7L167.5 25.1" stroke="#f5ca00" stroke-width="1.3" fill="none"/>
<polyline points="61.3,13.9 64.3,14.0 67.3,14.1 70.3,14.3 73.3,14.4 76.3,14.5 79.3,14.6 82.2,14.8 85.2,14.9 88.2,15.0 91.2,15.1 94.2,15.2 97.2,15.4 100.2,15.5 103.2,15.6 106.2,15.7 109.1,15.9 112.1,16.0 115.1,16.1 118.1,16.2 121.1,16.4 124.1,16.5 127.1,16.6 130.1,16.8 133.1,16.9 136.0,17.0 139.0,17.1 142.0,17.3 145.0,17.4 148.0,17.5 151.0,17.7 154.0,17.8 157.0,17.9 160.0,18.1 163.0,18.2 165.9,18.3 168.9,18.4 171.9,18.6 174.9,18.7 177.9,18.8 180.9,19.0" fill="none" stroke="#fae500" stroke-width="1.3"/>
<path d="M59.5 12.1L63.1 15.7M59.5 15.7L63.1 12.1" stroke="#fae500" stroke-width="1.3" fill="none"/>
<path d="M97.4 13.7L101.0 17.3M97.4 17.3L101.0 13.7" stroke="#fae500" stroke-width="1.3" fill="none"/>
<path d="M175.3 17.0L178.9 20.6M175.3 20.6L178.9 17.0" stroke="#fae500" stroke-width="1.3" fill="none"/>
<polyline points="61.3,7.5 64.7,7.6 68.1,7.7 71.6,7.8 75.0,7.9 78.4,8.0 81.8,8.1 85.2,8.2 88.6,8.3 92.1,8.4 95.5,8.5 98.9,8.6 102.3,8.7 105.7,8.8 109.1,9.0 112.5,9.1 116.0,9.2 119.4,9.3 122.8,9.4 126.2,9.5 129.6,9.6 133.0,9.7 136.5,9.8 139.9,9.9 143.3,10.0 146.7,10.1 150.1,10.2 153.5,10.3 156.9,10.4 160.4,10.5 163.8,10.7 167.2,10.8 170.6,10.9 174.0,11.0 177.4,11.1 180.9,11.3 184.3,11.4 187.7,11.5 191.1,11.7 194.5,11.8 197.9,11.9" fill="none" stroke="#ffff00" stroke-width="1.3"/>
<path d="M59.5 5.7L63.1 9.3M59.5 9.3L63.1 5.7" stroke="#ffff00" stroke-width="1.3" fill="none"/>
<path d="M107.8 7.2L111.4 10.8M107.8 10.8L111.4 7.2" stroke="#ffff00" stroke-width="1.3" fill="none"/>
<path d="M192.3 10.0L195.9 13.6M192.3 13.6L195.9 10.0" stroke="#ffff00" stroke-width="1.3" fill="none"/>
<polyline points="61.3,171.4 64.2,172.5 67.0,173.7" fill="none" stroke="#7102f1" stroke-width="4"/>
<g><polyline points="61.3,164.1 64.4,165.3 67.4,166.4 70.5,167.5 73.5,168.7 76.6,169.9 79.6,171.1 82.7,172.4 85.7,173.7 88.8,175.0 91.8,176.3 94.9,177.7 97.9,179.1 101.0,180.5 104.0,182.0 107.1,183.5 110.2,185.0 113.2,186.6 116.3,188.3 119.3,190.0 122.4,191.7 125.4,193.6 128.5,195.4 131.5,197.4 134.6,199.4 137.6,201.5 140.7,203.6 143.7,205.9 146.8,208.2 149.8,210.7 152.9,213.2" fill="none" stroke="#7b03fd" stroke-width="6.9" stroke-linejoin="round"/><path d="M57.7 164.1L64.9 164.1M61.3 160.5L61.3 167.7" stroke="#7b03fd" stroke-width="2.8" fill="none"/><path d="M62.7 166.0L69.9 166.0M66.3 162.4L66.3 169.6" stroke="#7b03fd" stroke-width="2.8" fill="none"/><path d="M149.5 213.2L156.3 213.2M152.9 209.8L152.9 216.6" stroke="#7b03fd" stroke-width="2.8" fill="none"/></g>
<g><polyline points="61.3,157.6 64.3,158.6 67.3,159.6 70.4,160.7 73.4,161.7 76.4,162.8 79.4,163.9 82.4,165.0 85.4,166.1 88.4,167.3 91.5,168.4 94.5,169.6 97.5,170.9 100.5,172.1 103.5,173.4 106.5,174.7 109.5,176.1 112.6,177.5 115.6,178.9 118.6,180.3 121.6,181.8 124.6,183.4 127.6,184.9 130.6,186.6 133.7,188.3 136.7,190.0 139.7,191.8 142.7,193.7 145.7,195.6 148.7,197.6 151.7,199.7" fill="none" stroke="#8305fe" stroke-width="6.9" stroke-linejoin="round"/><path d="M57.7 157.6L64.9 157.6M61.3 154.0L61.3 161.2" stroke="#8305fe" stroke-width="2.8" fill="none"/><path d="M62.7 159.3L69.9 159.3M66.3 155.7L66.3 162.9" stroke="#8305fe" stroke-width="2.8" fill="none"/><path d="M148.3 199.7L155.1 199.7M151.7 196.3L151.7 203.1" stroke="#8305fe" stroke-width="2.8" fill="none"/></g>
<g><polyline points="61.3,151.7 64.4,152.6 67.4,153.6 70.5,154.5 73.6,155.5 76.6,156.5 79.7,157.5 82.8,158.5 85.8,159.6 88.9,160.6 92.0,161.7 95.0,162.8 98.1,163.9 101.2,165.1 104.2,166.3 107.3,167.5 110.4,168.7 113.4,170.0 116.5,171.3 119.6,172.6 122.6,174.0 125.7,175.4 128.8,176.8 131.8,178.3 134.9,179.8 138.0,181.4 141.0,183.0 144.1,184.6 147.2,186.4 150.2,188.2" fill="none" stroke="#8a06f6" stroke-width="6.9" stroke-linejoin="round"/><path d="M57.7 151.7L64.9 151.7M61.3 148.1L61.3 155.3" stroke="#8a06f6" stroke-width="2.8" fill="none"/><path d="M62.7 153.2L69.9 153.2M66.3 149.6L66.3 156.8" stroke="#8a06f6" stroke-width="2.8" fill="none"/><path d="M146.8 188.2L153.6 188.2M150.2 184.8L150.2 191.6" stroke="#8a06f6" stroke-width="2.8" fill="none"/></g>
<g><polyline points="61.3,146.2 64.4,147.1 67.4,147.9 70.4,148.8 73.5,149.7 76.5,150.6 79.5,151.5 82.5,152.4 85.6,153.4 88.6,154.3 91.6,155.3 94.7,156.3 97.7,157.3 100.7,158.3 103.8,159.4 106.8,160.5 109.8,161.6 112.9,162.7 115.9,163.8 118.9,165.0 122.0,166.2 125.0,167.5 128.0,168.7 131.1,170.0 134.1,171.3 137.1,172.7 140.2,174.1 143.2,175.6 146.2,177.0 149.3,178.6 152.3,180.2" fill="none" stroke="#9008e7" stroke-width="6.9" stroke-linejoin="round"/><path d="M57.7 146.2L64.9 146.2M61.3 142.6L61.3 149.8" stroke="#9008e7" stroke-width="2.8" fill="none"/><path d="M62.7 147.6L69.9 147.6M66.3 144.0L66.3 151.2" stroke="#9008e7" stroke-width="2.8" fill="none"/><path d="M148.9 180.2L155.7 180.2M152.3 176.8L152.3 183.6" stroke="#9008e7" stroke-width="2.8" fill="none"/></g>
<g><polyline points="62.4,141.4 65.4,142.2 68.4,143.0 71.4,143.8 74.4,144.6 77.4,145.5 80.4,146.3 83.4,147.1 86.4,148.0 89.4,148.9 92.4,149.8 95.4,150.7 98.4,151.6 101.4,152.6 104.5,153.5 107.5,154.5 110.5,155.5 113.5,156.5 116.5,157.5 119.5,158.6 122.5,159.7 125.5,160.8 128.5,161.9 131.5,163.1 134.5,164.3 137.5,165.5 140.5,166.8 143.5,168.0 146.5,169.4 149.5,170.7" fill="none" stroke="#950ad4" stroke-width="6.9" stroke-linejoin="round"/><path d="M58.8 141.4L66.0 141.4M62.4 137.8L62.4 145.0" stroke="#950ad4" stroke-width="2.8" fill="none"/><path d="M61.3 142.1L68.5 142.1M64.9 138.5L64.9 145.7" stroke="#950ad4" stroke-width="2.8" fill="none"/><path d="M63.8 142.7L71.0 142.7M67.4 139.1L67.4 146.3" stroke="#950ad4" stroke-width="2.8" fill="none"/><path d="M146.1 170.7L152.9 170.7M149.5 167.3L149.5 174.1" stroke="#950ad4" stroke-width="2.8" fill="none"/></g>
<g><polyline points="64.7,137.2 67.7,138.0 70.8,138.8 73.9,139.5 77.0,140.3 80.1,141.1 83.2,141.9 86.3,142.8 89.4,143.6 92.5,144.5 95.6,145.3 98.6,146.2 101.7,147.1 104.8,148.0 107.9,148.9 111.0,149.9 114.1,150.9 117.2,151.8 120.3,152.8 123.4,153.9 126.5,154.9 129.5,156.0 132.6,157.1 135.7,158.2 138.8,159.4 141.9,160.5 145.0,161.8 148.1,163.0 151.2,164.3" fill="none" stroke="#9a0dbd" stroke-width="6.9" stroke-linejoin="round"/><path d="M61.1 137.2L68.3 137.2M64.7 133.6L64.7 140.8" stroke="#9a0dbd" stroke-width="2.8" fill="none"/><path d="M63.6 137.8L70.8 137.8M67.2 134.2L67.2 141.4" stroke="#9a0dbd" stroke-width="2.8" fill="none"/><path d="M66.1 138.5L73.3 138.5M69.7 134.9L69.7 142.1" stroke="#9a0dbd" stroke-width="2.8" fill="none"/><path d="M147.8 164.3L154.6 164.3M151.2 160.9L151.2 167.7" stroke="#9a0dbd" stroke-width="2.8" fill="none"/></g>
<g><polyline points="66.9,133.3 69.9,134.0 73.0,134.7 76.0,135.4 79.1,136.2 82.1,136.9 85.1,137.7 88.2,138.4 91.2,139.2 94.3,140.0 97.3,140.8 100.4,141.6 103.4,142.4 106.5,143.3 109.5,144.1 112.5,145.0 115.6,145.9 118.6,146.8 121.7,147.7 124.7,148.6 127.8,149.6 130.8,150.6 133.9,151.6 136.9,152.6 139.9,153.7 143.0,154.7 146.0,155.8 149.1,157.0 152.1,158.1" fill="none" stroke="#9f0fa5" stroke-width="6.9" stroke-linejoin="round"/><path d="M63.3 133.3L70.5 133.3M66.9 129.7L66.9 136.9" stroke="#9f0fa5" stroke-width="2.8" fill="none"/><path d="M65.8 133.9L73.0 133.9M69.4 130.3L69.4 137.5" stroke="#9f0fa5" stroke-width="2.8" fill="none"/><path d="M68.3 134.4L75.5 134.4M71.9 130.8L71.9 138.0" stroke="#9f0fa5" stroke-width="2.8" fill="none"/><path d="M148.7 158.1L155.5 158.1M152.1 154.7L152.1 161.5" stroke="#9f0fa5" stroke-width="2.8" fill="none"/></g>
<g><polyline points="70.5,125.8 73.5,126.5 76.6,127.1 79.6,127.8 82.7,128.4 85.7,129.1 88.7,129.7 91.8,130.4 94.8,131.1 97.8,131.8 100.9,132.5 103.9,133.3 107.0,134.0 110.0,134.7 113.0,135.5 116.1,136.3 119.1,137.0 122.1,137.8 125.2,138.7 128.2,139.5 131.2,140.3 134.3,141.2 137.3,142.1 140.4,143.0 143.4,143.9 146.4,144.8 149.5,145.8 152.5,146.7" fill="none" stroke="#a71470" stroke-width="6.9" stroke-linejoin="round"/><path d="M66.9 125.8L74.1 125.8M70.5 122.2L70.5 129.4" stroke="#a71470" stroke-width="2.8" fill="none"/><path d="M69.4 126.4L76.6 126.4M73.0 122.8L73.0 130.0" stroke="#a71470" stroke-width="2.8" fill="none"/><path d="M71.9 126.9L79.1 126.9M75.5 123.3L75.5 130.5" stroke="#a71470" stroke-width="2.8" fill="none"/><path d="M149.1 146.7L155.9 146.7M152.5 143.3L152.5 150.1" stroke="#a71470" stroke-width="2.8" fill="none"/></g>
<g><polyline points="73.5,119.0 76.5,119.6 79.5,120.1 82.5,120.7 85.5,121.3 88.6,121.9 91.6,122.5 94.6,123.1 97.6,123.7 100.6,124.3 103.6,124.9 106.7,125.5 109.7,126.2 112.7,126.8 115.7,127.5 118.7,128.1 121.7,128.8 124.8,129.4 127.8,130.1 130.8,130.8 133.8,131.5 136.8,132.2 139.8,132.9 142.9,133.6 145.9,134.3" fill="none" stroke="#ad193b" stroke-width="6.9" stroke-linejoin="round"/><path d="M69.9 119.0L77.1 119.0M73.5 115.4L73.5 122.6" stroke="#ad193b" stroke-width="2.8" fill="none"/><path d="M72.4 119.5L79.6 119.5M76.0 115.9L76.0 123.1" stroke="#ad193b" stroke-width="2.8" fill="none"/><path d="M74.9 119.9L82.1 119.9M78.5 116.3L78.5 123.5" stroke="#ad193b" stroke-width="2.8" fill="none"/><path d="M142.5 134.3L149.3 134.3M145.9 130.9L145.9 137.7" stroke="#ad193b" stroke-width="2.8" fill="none"/></g>
<g><polyline points="76.4,112.8 79.5,113.3 82.5,113.8 85.6,114.4 88.7,114.9 91.7,115.4 94.8,116.0 97.8,116.6 100.9,117.1 104.0,117.7 107.0,118.3 110.1,118.8 113.2,119.4 116.2,120.0 119.3,120.6 122.3,121.2 125.4,121.8 128.5,122.4 131.5,123.0 134.6,123.6 137.6,124.3 140.7,124.9 143.8,125.6 146.8,126.2" fill="none" stroke="#b31f09" stroke-width="6.9" stroke-linejoin="round"/><path d="M72.8 112.8L80.0 112.8M76.4 109.2L76.4 116.4" stroke="#b31f09" stroke-width="2.8" fill="none"/><path d="M75.3 113.2L82.5 113.2M78.9 109.6L78.9 116.8" stroke="#b31f09" stroke-width="2.8" fill="none"/><path d="M77.8 113.6L85.0 113.6M81.4 110.0L81.4 117.2" stroke="#b31f09" stroke-width="2.8" fill="none"/><path d="M143.4 126.2L150.2 126.2M146.8 122.8L146.8 129.6" stroke="#b31f09" stroke-width="2.8" fill="none"/></g>
<g><polyline points="81.1,104.4 84.3,104.9 87.4,105.4 90.5,105.9 93.6,106.4 96.7,106.8 99.8,107.3 102.9,107.8 106.0,108.3 109.1,108.8 112.3,109.4 115.4,109.9 118.5,110.4 121.6,110.9 124.7,111.4 127.8,112.0 130.9,112.5 134.0,113.1 137.2,113.6 140.3,114.2 143.4,114.7 146.5,115.3 149.6,115.8 152.7,116.4 155.8,117.0 158.9,117.6" fill="none" stroke="#bb2800" stroke-width="3.2" stroke-linejoin="round"/><path d="M122.7 111.6L128.3 111.6M125.5 108.8L125.5 114.4" stroke="#bb2800" stroke-width="2.0" fill="none"/><path d="M126.3 112.2L131.9 112.2M129.1 109.4L129.1 115.0" stroke="#bb2800" stroke-width="2.0" fill="none"/><path d="M129.8 112.8L135.4 112.8M132.6 110.0L132.6 115.6" stroke="#bb2800" stroke-width="2.0" fill="none"/><path d="M133.4 113.4L139.0 113.4M136.2 110.6L136.2 116.2" stroke="#bb2800" stroke-width="2.0" fill="none"/><path d="M137.0 114.1L142.6 114.1M139.8 111.3L139.8 116.9" stroke="#bb2800" stroke-width="2.0" fill="none"/><path d="M140.6 114.7L146.2 114.7M143.4 111.9L143.4 117.5" stroke="#bb2800" stroke-width="2.0" fill="none"/><path d="M77.5 104.4L84.7 104.4M81.1 100.8L81.1 108.0" stroke="#bb2800" stroke-width="2.6" fill="none"/><path d="M80.5 104.9L87.7 104.9M84.1 101.3L84.1 108.5" stroke="#bb2800" stroke-width="2.6" fill="none"/><path d="M83.5 105.3L90.7 105.3M87.1 101.7L87.1 108.9" stroke="#bb2800" stroke-width="2.6" fill="none"/><polyline points="84.1,104.9 87.3,105.4 90.5,105.9 93.7,106.4 96.9,106.9 100.0,107.4 103.2,107.9 106.4,108.4 109.6,108.9 112.8,109.4 115.9,110.0 119.1,110.5 122.3,111.0 125.5,111.6" fill="none" stroke="#bb2800" stroke-width="5.9" stroke-linejoin="round"/><polyline points="143.4,114.7 147.0,115.4 150.7,116.0 154.3,116.7 157.9,117.4" fill="none" stroke="#bb2800" stroke-width="5.2" stroke-linejoin="round"/><path d="M155.1 117.6L162.7 117.6M158.9 113.8L158.9 121.4" stroke="#bb2800" stroke-width="2.8" fill="none"/></g>
<g><polyline points="86.1,97.0 89.2,97.5 92.3,97.9 95.4,98.3 98.4,98.7 101.5,99.2 104.6,99.6 107.7,100.1 110.8,100.5 113.9,101.0 117.0,101.4 120.1,101.9 123.2,102.3 126.3,102.8 129.4,103.3 132.4,103.7 135.5,104.2 138.6,104.7 141.7,105.2 144.8,105.6 147.9,106.1 151.0,106.6 154.1,107.1 157.2,107.6 160.3,108.1 163.3,108.6 166.4,109.2 169.5,109.7" fill="none" stroke="#c13000" stroke-width="3.2" stroke-linejoin="round"/><path d="M130.8 103.9L136.4 103.9M133.6 101.1L133.6 106.7" stroke="#c13000" stroke-width="2.0" fill="none"/><path d="M134.7 104.5L140.3 104.5M137.5 101.7L137.5 107.3" stroke="#c13000" stroke-width="2.0" fill="none"/><path d="M138.5 105.1L144.1 105.1M141.3 102.3L141.3 107.9" stroke="#c13000" stroke-width="2.0" fill="none"/><path d="M142.4 105.7L148.0 105.7M145.2 102.9L145.2 108.5" stroke="#c13000" stroke-width="2.0" fill="none"/><path d="M146.2 106.3L151.8 106.3M149.0 103.5L149.0 109.1" stroke="#c13000" stroke-width="2.0" fill="none"/><path d="M150.0 106.9L155.6 106.9M152.8 104.1L152.8 109.7" stroke="#c13000" stroke-width="2.0" fill="none"/><path d="M82.5 97.0L89.7 97.0M86.1 93.4L86.1 100.6" stroke="#c13000" stroke-width="2.6" fill="none"/><path d="M85.5 97.4L92.7 97.4M89.1 93.8L89.1 101.0" stroke="#c13000" stroke-width="2.6" fill="none"/><path d="M88.5 97.9L95.7 97.9M92.1 94.3L92.1 101.5" stroke="#c13000" stroke-width="2.6" fill="none"/><polyline points="89.1,97.4 92.3,97.9 95.5,98.3 98.6,98.8 101.8,99.2 105.0,99.7 108.2,100.1 111.4,100.6 114.5,101.1 117.7,101.5 120.9,102.0 124.1,102.5 127.3,102.9 130.5,103.4 133.6,103.9" fill="none" stroke="#c13000" stroke-width="5.9" stroke-linejoin="round"/><polyline points="152.8,106.9 156.0,107.4 159.1,107.9 162.3,108.5 165.4,109.0 168.5,109.5" fill="none" stroke="#c13000" stroke-width="5.2" stroke-linejoin="round"/><path d="M165.7 109.7L173.3 109.7M169.5 105.9L169.5 113.5" stroke="#c13000" stroke-width="2.8" fill="none"/></g>
<g><polyline points="92.8,88.3 95.8,88.7 98.9,89.0 102.0,89.4 105.0,89.8 108.1,90.2 111.2,90.5 114.2,90.9 117.3,91.3 120.4,91.7 123.4,92.1 126.5,92.5 129.6,92.9 132.7,93.3 135.7,93.7 138.8,94.1 141.9,94.5 144.9,94.9 148.0,95.3 151.1,95.8 154.1,96.2 157.2,96.6 160.3,97.0 163.3,97.5 166.4,97.9 169.5,98.3 172.5,98.8 175.6,99.2 178.7,99.7 181.7,100.1 184.8,100.6 187.9,101.0" fill="none" stroke="#c93d00" stroke-width="3.2" stroke-linejoin="round"/><path d="M144.2 95.2L149.8 95.2M147.0 92.4L147.0 98.0" stroke="#c93d00" stroke-width="2.0" fill="none"/><path d="M147.8 95.7L153.4 95.7M150.6 92.9L150.6 98.5" stroke="#c93d00" stroke-width="2.0" fill="none"/><path d="M151.5 96.2L157.1 96.2M154.3 93.4L154.3 99.0" stroke="#c93d00" stroke-width="2.0" fill="none"/><path d="M155.1 96.7L160.7 96.7M157.9 93.9L157.9 99.5" stroke="#c93d00" stroke-width="2.0" fill="none"/><path d="M158.8 97.2L164.4 97.2M161.6 94.4L161.6 100.0" stroke="#c93d00" stroke-width="2.0" fill="none"/><path d="M162.4 97.7L168.0 97.7M165.2 94.9L165.2 100.5" stroke="#c93d00" stroke-width="2.0" fill="none"/><path d="M166.1 98.2L171.7 98.2M168.9 95.4L168.9 101.0" stroke="#c93d00" stroke-width="2.0" fill="none"/><path d="M89.2 88.3L96.4 88.3M92.8 84.7L92.8 91.9" stroke="#c93d00" stroke-width="2.6" fill="none"/><path d="M92.2 88.6L99.4 88.6M95.8 85.0L95.8 92.2" stroke="#c93d00" stroke-width="2.6" fill="none"/><path d="M95.2 89.0L102.4 89.0M98.8 85.4L98.8 92.6" stroke="#c93d00" stroke-width="2.6" fill="none"/><polyline points="95.8,88.6 98.8,89.0 101.8,89.4 104.8,89.7 107.8,90.1 110.8,90.5 113.8,90.9 116.9,91.3 119.9,91.6 122.9,92.0 125.9,92.4 128.9,92.8 131.9,93.2 134.9,93.6 137.9,94.0 141.0,94.4 144.0,94.8 147.0,95.2" fill="none" stroke="#c93d00" stroke-width="5.9" stroke-linejoin="round"/><polyline points="168.9,98.2 171.9,98.7 174.9,99.1 177.9,99.5 180.9,100.0 183.9,100.4 186.9,100.9" fill="none" stroke="#c93d00" stroke-width="5.2" stroke-linejoin="round"/><path d="M184.1 101.0L191.7 101.0M187.9 97.2L187.9 104.8" stroke="#c93d00" stroke-width="2.8" fill="none"/></g>
<g><polyline points="99.6,80.5 102.6,80.9 105.7,81.2 108.8,81.5 111.8,81.9 114.9,82.2 117.9,82.5 121.0,82.9 124.0,83.2 127.1,83.6 130.1,83.9 133.2,84.3 136.3,84.6 139.3,85.0 142.4,85.3 145.4,85.7 148.5,86.1 151.5,86.4 154.6,86.8 157.7,87.2 160.7,87.5 163.8,87.9 166.8,88.3 169.9,88.7 172.9,89.0 176.0,89.4 179.0,89.8 182.1,90.2 185.2,90.6 188.2,91.0 191.3,91.4 194.3,91.8 197.4,92.2 200.4,92.6 203.5,93.0 206.5,93.4 209.6,93.8 212.7,94.2" fill="none" stroke="#cf4900" stroke-width="3.2" stroke-linejoin="round"/><path d="M161.2 87.9L166.8 87.9M164.0 85.1L164.0 90.7" stroke="#cf4900" stroke-width="2.0" fill="none"/><path d="M164.5 88.3L170.1 88.3M167.3 85.5L167.3 91.1" stroke="#cf4900" stroke-width="2.0" fill="none"/><path d="M167.7 88.7L173.3 88.7M170.5 85.9L170.5 91.5" stroke="#cf4900" stroke-width="2.0" fill="none"/><path d="M171.0 89.1L176.6 89.1M173.8 86.3L173.8 91.9" stroke="#cf4900" stroke-width="2.0" fill="none"/><path d="M174.2 89.6L179.8 89.6M177.0 86.8L177.0 92.4" stroke="#cf4900" stroke-width="2.0" fill="none"/><path d="M177.5 90.0L183.1 90.0M180.3 87.2L180.3 92.8" stroke="#cf4900" stroke-width="2.0" fill="none"/><path d="M180.7 90.4L186.3 90.4M183.5 87.6L183.5 93.2" stroke="#cf4900" stroke-width="2.0" fill="none"/><path d="M184.0 90.8L189.6 90.8M186.8 88.0L186.8 93.6" stroke="#cf4900" stroke-width="2.0" fill="none"/><path d="M187.2 91.2L192.8 91.2M190.0 88.4L190.0 94.0" stroke="#cf4900" stroke-width="2.0" fill="none"/><path d="M96.0 80.5L103.2 80.5M99.6 76.9L99.6 84.1" stroke="#cf4900" stroke-width="2.6" fill="none"/><path d="M99.0 80.9L106.2 80.9M102.6 77.3L102.6 84.5" stroke="#cf4900" stroke-width="2.6" fill="none"/><path d="M102.0 81.2L109.2 81.2M105.6 77.6L105.6 84.8" stroke="#cf4900" stroke-width="2.6" fill="none"/><polyline points="102.6,80.9 105.7,81.2 108.7,81.5 111.8,81.9 114.9,82.2 117.9,82.6 121.0,82.9 124.1,83.2 127.2,83.6 130.2,83.9 133.3,84.3 136.4,84.6 139.5,85.0 142.5,85.4 145.6,85.7 148.7,86.1 151.7,86.5 154.8,86.8 157.9,87.2 161.0,87.6 164.0,87.9" fill="none" stroke="#cf4900" stroke-width="5.9" stroke-linejoin="round"/><polyline points="190.0,91.2 193.1,91.6 196.2,92.0 199.3,92.4 202.4,92.8 205.5,93.2 208.6,93.7 211.7,94.1" fill="none" stroke="#cf4900" stroke-width="5.2" stroke-linejoin="round"/><path d="M208.9 94.2L216.5 94.2M212.7 90.4L212.7 98.0" stroke="#cf4900" stroke-width="2.8" fill="none"/></g>
<g><polyline points="105.3,73.5 108.4,73.8 111.4,74.1 114.4,74.4 117.4,74.7 120.5,75.0 123.5,75.3 126.5,75.6 129.5,75.9 132.6,76.2 135.6,76.5 138.6,76.8 141.6,77.1 144.6,77.4 147.7,77.8 150.7,78.1 153.7,78.4 156.7,78.7 159.8,79.0 162.8,79.4 165.8,79.7 168.8,80.0 171.9,80.4 174.9,80.7 177.9,81.0 180.9,81.4 184.0,81.7 187.0,82.0 190.0,82.4 193.0,82.7 196.1,83.1 199.1,83.4 202.1,83.8 205.1,84.1 208.1,84.5 211.2,84.8 214.2,85.2 217.2,85.6 220.2,85.9 223.3,86.3 226.3,86.7 229.3,87.0 232.3,87.4 235.4,87.8 238.4,88.2" fill="none" stroke="#d45500" stroke-width="3.2" stroke-linejoin="round"/><path d="M178.4 81.4L184.0 81.4M181.2 78.6L181.2 84.2" stroke="#d45500" stroke-width="2.0" fill="none"/><path d="M181.8 81.8L187.4 81.8M184.6 79.0L184.6 84.6" stroke="#d45500" stroke-width="2.0" fill="none"/><path d="M185.2 82.2L190.8 82.2M188.0 79.4L188.0 85.0" stroke="#d45500" stroke-width="2.0" fill="none"/><path d="M188.6 82.5L194.2 82.5M191.4 79.7L191.4 85.3" stroke="#d45500" stroke-width="2.0" fill="none"/><path d="M192.0 82.9L197.6 82.9M194.8 80.1L194.8 85.7" stroke="#d45500" stroke-width="2.0" fill="none"/><path d="M195.4 83.3L201.0 83.3M198.2 80.5L198.2 86.1" stroke="#d45500" stroke-width="2.0" fill="none"/><path d="M198.8 83.7L204.4 83.7M201.6 80.9L201.6 86.5" stroke="#d45500" stroke-width="2.0" fill="none"/><path d="M202.2 84.1L207.8 84.1M205.0 81.3L205.0 86.9" stroke="#d45500" stroke-width="2.0" fill="none"/><path d="M205.6 84.5L211.2 84.5M208.4 81.7L208.4 87.3" stroke="#d45500" stroke-width="2.0" fill="none"/><path d="M209.0 84.9L214.6 84.9M211.8 82.1L211.8 87.7" stroke="#d45500" stroke-width="2.0" fill="none"/><path d="M101.7 73.5L108.9 73.5M105.3 69.9L105.3 77.1" stroke="#d45500" stroke-width="2.6" fill="none"/><path d="M104.7 73.8L111.9 73.8M108.3 70.2L108.3 77.4" stroke="#d45500" stroke-width="2.6" fill="none"/><path d="M107.7 74.1L114.9 74.1M111.3 70.5L111.3 77.7" stroke="#d45500" stroke-width="2.6" fill="none"/><polyline points="108.3,73.8 111.4,74.1 114.4,74.4 117.4,74.7 120.5,75.0 123.5,75.3 126.5,75.6 129.6,75.9 132.6,76.2 135.7,76.5 138.7,76.8 141.7,77.1 144.8,77.5 147.8,77.8 150.8,78.1 153.9,78.4 156.9,78.7 159.9,79.1 163.0,79.4 166.0,79.7 169.0,80.0 172.1,80.4 175.1,80.7 178.1,81.1 181.2,81.4" fill="none" stroke="#d45500" stroke-width="5.9" stroke-linejoin="round"/><polyline points="211.8,84.9 215.0,85.3 218.2,85.7 221.4,86.1 224.6,86.5 227.8,86.9 231.0,87.2 234.2,87.6 237.4,88.0" fill="none" stroke="#d45500" stroke-width="5.2" stroke-linejoin="round"/><path d="M234.6 88.2L242.2 88.2M238.4 84.4L238.4 92.0" stroke="#d45500" stroke-width="2.8" fill="none"/></g>
<g><polyline points="112.4,65.6 115.5,65.8 118.5,66.1 121.5,66.4 124.5,66.6 127.5,66.9 130.5,67.2 133.5,67.4 136.6,67.7 139.6,68.0 142.6,68.3 145.6,68.5 148.6,68.8 151.6,69.1 154.7,69.4 157.7,69.6 160.7,69.9 163.7,70.2 166.7,70.5 169.7,70.8 172.7,71.1 175.8,71.4 178.8,71.7 181.8,72.0 184.8,72.2 187.8,72.5 190.8,72.8 193.9,73.1 196.9,73.4 199.9,73.7 202.9,74.0 205.9,74.4 208.9,74.7 211.9,75.0 215.0,75.3 218.0,75.6 221.0,75.9 224.0,76.2 227.0,76.5 230.0,76.9 233.0,77.2 236.1,77.5 239.1,77.8 242.1,78.2 245.1,78.5 248.1,78.8 251.1,79.1 254.2,79.5 257.2,79.8 260.2,80.2 263.2,80.5 266.2,80.8 269.2,81.2 272.2,81.5" fill="none" stroke="#da6500" stroke-width="3.2" stroke-linejoin="round"/><path d="M200.7 74.1L206.3 74.1M203.5 71.3L203.5 76.9" stroke="#da6500" stroke-width="2.0" fill="none"/><path d="M204.1 74.4L209.7 74.4M206.9 71.6L206.9 77.2" stroke="#da6500" stroke-width="2.0" fill="none"/><path d="M207.4 74.8L213.0 74.8M210.2 72.0L210.2 77.6" stroke="#da6500" stroke-width="2.0" fill="none"/><path d="M210.8 75.1L216.4 75.1M213.6 72.3L213.6 77.9" stroke="#da6500" stroke-width="2.0" fill="none"/><path d="M214.1 75.5L219.7 75.5M216.9 72.7L216.9 78.3" stroke="#da6500" stroke-width="2.0" fill="none"/><path d="M217.4 75.8L223.0 75.8M220.2 73.0L220.2 78.6" stroke="#da6500" stroke-width="2.0" fill="none"/><path d="M220.8 76.2L226.4 76.2M223.6 73.4L223.6 79.0" stroke="#da6500" stroke-width="2.0" fill="none"/><path d="M224.1 76.5L229.7 76.5M226.9 73.7L226.9 79.3" stroke="#da6500" stroke-width="2.0" fill="none"/><path d="M227.5 76.9L233.1 76.9M230.3 74.1L230.3 79.7" stroke="#da6500" stroke-width="2.0" fill="none"/><path d="M230.8 77.2L236.4 77.2M233.6 74.4L233.6 80.0" stroke="#da6500" stroke-width="2.0" fill="none"/><path d="M234.1 77.6L239.7 77.6M236.9 74.8L236.9 80.4" stroke="#da6500" stroke-width="2.0" fill="none"/><path d="M237.5 78.0L243.1 78.0M240.3 75.2L240.3 80.8" stroke="#da6500" stroke-width="2.0" fill="none"/><path d="M108.8 65.6L116.0 65.6M112.4 62.0L112.4 69.2" stroke="#da6500" stroke-width="2.6" fill="none"/><path d="M111.8 65.8L119.0 65.8M115.4 62.2L115.4 69.4" stroke="#da6500" stroke-width="2.6" fill="none"/><path d="M114.8 66.1L122.0 66.1M118.4 62.5L118.4 69.7" stroke="#da6500" stroke-width="2.6" fill="none"/><polyline points="115.4,65.8 118.5,66.1 121.5,66.4 124.5,66.6 127.6,66.9 130.6,67.2 133.7,67.4 136.7,67.7 139.7,68.0 142.8,68.3 145.8,68.6 148.9,68.8 151.9,69.1 154.9,69.4 158.0,69.7 161.0,70.0 164.0,70.2 167.1,70.5 170.1,70.8 173.2,71.1 176.2,71.4 179.2,71.7 182.3,72.0 185.3,72.3 188.3,72.6 191.4,72.9 194.4,73.2 197.5,73.5 200.5,73.8 203.5,74.1" fill="none" stroke="#da6500" stroke-width="5.9" stroke-linejoin="round"/><polyline points="240.3,78.0 243.4,78.3 246.5,78.6 249.6,79.0 252.7,79.3 255.8,79.7 258.9,80.0 262.0,80.4 265.1,80.7 268.2,81.1 271.2,81.4" fill="none" stroke="#da6500" stroke-width="5.2" stroke-linejoin="round"/><path d="M268.4 81.5L276.0 81.5M272.2 77.7L272.2 85.3" stroke="#da6500" stroke-width="2.8" fill="none"/></g>
<g><polyline points="119.5,58.5 122.6,58.7 125.6,59.0 128.6,59.2 131.6,59.4 134.6,59.7 137.7,59.9 140.7,60.2 143.7,60.4 146.7,60.7 149.8,60.9 152.8,61.2 155.8,61.4 158.8,61.7 161.8,61.9 164.9,62.2 167.9,62.4 170.9,62.7 173.9,62.9 176.9,63.2 180.0,63.4 183.0,63.7 186.0,64.0 189.0,64.2 192.1,64.5 195.1,64.8 198.1,65.0 201.1,65.3 204.1,65.6 207.2,65.8 210.2,66.1 213.2,66.4 216.2,66.7 219.2,66.9 222.3,67.2 225.3,67.5 228.3,67.8 231.3,68.1 234.4,68.3 237.4,68.6 240.4,68.9 243.4,69.2 246.4,69.5 249.5,69.8 252.5,70.1 255.5,70.4 258.5,70.7 261.5,70.9 264.6,71.2 267.6,71.5 270.6,71.8 273.6,72.1 276.7,72.5 279.7,72.8 282.7,73.1 285.7,73.4 288.7,73.7 291.8,74.0 294.8,74.3 297.8,74.6 300.8,74.9 303.8,75.3 306.9,75.6" fill="none" stroke="#e07400" stroke-width="3.2" stroke-linejoin="round"/><path d="M223.5 67.6L229.1 67.6M226.3 64.8L226.3 70.4" stroke="#e07400" stroke-width="2.0" fill="none"/><path d="M226.8 67.9L232.4 67.9M229.6 65.1L229.6 70.7" stroke="#e07400" stroke-width="2.0" fill="none"/><path d="M230.1 68.2L235.7 68.2M232.9 65.4L232.9 71.0" stroke="#e07400" stroke-width="2.0" fill="none"/><path d="M233.5 68.5L239.1 68.5M236.3 65.7L236.3 71.3" stroke="#e07400" stroke-width="2.0" fill="none"/><path d="M236.8 68.8L242.4 68.8M239.6 66.0L239.6 71.6" stroke="#e07400" stroke-width="2.0" fill="none"/><path d="M240.1 69.1L245.7 69.1M242.9 66.3L242.9 71.9" stroke="#e07400" stroke-width="2.0" fill="none"/><path d="M243.4 69.5L249.0 69.5M246.2 66.7L246.2 72.3" stroke="#e07400" stroke-width="2.0" fill="none"/><path d="M246.7 69.8L252.3 69.8M249.5 67.0L249.5 72.6" stroke="#e07400" stroke-width="2.0" fill="none"/><path d="M250.0 70.1L255.6 70.1M252.8 67.3L252.8 72.9" stroke="#e07400" stroke-width="2.0" fill="none"/><path d="M253.3 70.4L258.9 70.4M256.1 67.6L256.1 73.2" stroke="#e07400" stroke-width="2.0" fill="none"/><path d="M256.7 70.7L262.3 70.7M259.5 67.9L259.5 73.5" stroke="#e07400" stroke-width="2.0" fill="none"/><path d="M260.0 71.1L265.6 71.1M262.8 68.3L262.8 73.9" stroke="#e07400" stroke-width="2.0" fill="none"/><path d="M263.3 71.4L268.9 71.4M266.1 68.6L266.1 74.2" stroke="#e07400" stroke-width="2.0" fill="none"/><path d="M266.6 71.7L272.2 71.7M269.4 68.9L269.4 74.5" stroke="#e07400" stroke-width="2.0" fill="none"/><path d="M115.9 58.5L123.1 58.5M119.5 54.9L119.5 62.1" stroke="#e07400" stroke-width="2.6" fill="none"/><path d="M118.9 58.7L126.1 58.7M122.5 55.1L122.5 62.3" stroke="#e07400" stroke-width="2.6" fill="none"/><path d="M121.9 59.0L129.1 59.0M125.5 55.4L125.5 62.6" stroke="#e07400" stroke-width="2.6" fill="none"/><polyline points="122.5,58.7 125.6,59.0 128.6,59.2 131.7,59.4 134.7,59.7 137.8,59.9 140.9,60.2 143.9,60.4 147.0,60.7 150.0,60.9 153.1,61.2 156.1,61.4 159.2,61.7 162.2,61.9 165.3,62.2 168.3,62.5 171.4,62.7 174.4,63.0 177.5,63.2 180.5,63.5 183.6,63.8 186.6,64.0 189.7,64.3 192.7,64.6 195.8,64.8 198.8,65.1 201.9,65.4 204.9,65.6 208.0,65.9 211.1,66.2 214.1,66.5 217.2,66.7 220.2,67.0 223.3,67.3 226.3,67.6" fill="none" stroke="#e07400" stroke-width="5.9" stroke-linejoin="round"/><polyline points="269.4,71.7 272.4,72.0 275.5,72.3 278.5,72.6 281.6,72.9 284.6,73.3 287.6,73.6 290.7,73.9 293.7,74.2 296.8,74.5 299.8,74.8 302.8,75.2 305.9,75.5" fill="none" stroke="#e07400" stroke-width="5.2" stroke-linejoin="round"/><path d="M303.1 75.6L310.7 75.6M306.9 71.8L306.9 79.4" stroke="#e07400" stroke-width="2.8" fill="none"/></g>
<g><polyline points="136.9,46.4 140.0,46.6 143.0,46.8 146.0,47.0 149.1,47.2 152.1,47.4 155.1,47.6 158.2,47.8 161.2,48.0 164.3,48.2 167.3,48.5 170.3,48.7 173.4,48.9 176.4,49.1 179.4,49.3 182.5,49.5 185.5,49.7 188.6,49.9 191.6,50.1 194.6,50.4 197.7,50.6 200.7,50.8 203.7,51.0 206.8,51.2 209.8,51.5 212.9,51.7 215.9,51.9 218.9,52.1 222.0,52.4 225.0,52.6 228.0,52.8 231.1,53.0 234.1,53.3 237.2,53.5 240.2,53.7 243.2,54.0 246.3,54.2 249.3,54.4 252.3,54.7 255.4,54.9 258.4,55.1 261.5,55.4 264.5,55.6 267.5,55.8 270.6,56.1 273.6,56.3 276.7,56.6 279.7,56.8 282.7,57.1 285.8,57.3 288.8,57.5 291.8,57.8 294.9,58.0 297.9,58.3 301.0,58.5 304.0,58.8 307.0,59.1 310.1,59.3 313.1,59.6 316.1,59.8 319.2,60.1 322.2,60.3 325.3,60.6 328.3,60.9 331.3,61.1 334.4,61.4 337.4,61.7 340.4,61.9 343.5,62.2 346.5,62.5 349.6,62.7 352.6,63.0 355.6,63.3 358.7,63.6 361.7,63.8 364.7,64.1 367.8,64.4" fill="none" stroke="#e89200" stroke-width="3.3" stroke-linejoin="round"/><path d="M133.5 46.4L140.3 46.4M136.9 43.0L136.9 49.8" stroke="#e89200" stroke-width="2.6" fill="none"/><path d="M138.1 46.7L144.9 46.7M141.5 43.3L141.5 50.1" stroke="#e89200" stroke-width="2.6" fill="none"/><path d="M142.7 47.0L149.5 47.0M146.1 43.6L146.1 50.4" stroke="#e89200" stroke-width="2.6" fill="none"/><path d="M147.3 47.3L154.1 47.3M150.7 43.9L150.7 50.7" stroke="#e89200" stroke-width="2.6" fill="none"/><path d="M151.9 47.6L158.7 47.6M155.3 44.2L155.3 51.0" stroke="#e89200" stroke-width="2.6" fill="none"/><path d="M156.5 47.9L163.3 47.9M159.9 44.5L159.9 51.3" stroke="#e89200" stroke-width="2.6" fill="none"/><path d="M161.1 48.3L167.9 48.3M164.5 44.9L164.5 51.7" stroke="#e89200" stroke-width="2.6" fill="none"/><path d="M165.8 48.6L172.6 48.6M169.2 45.2L169.2 52.0" stroke="#e89200" stroke-width="2.6" fill="none"/><path d="M170.4 48.9L177.2 48.9M173.8 45.5L173.8 52.3" stroke="#e89200" stroke-width="2.6" fill="none"/><path d="M175.0 49.2L181.8 49.2M178.4 45.8L178.4 52.6" stroke="#e89200" stroke-width="2.6" fill="none"/><path d="M179.6 49.5L186.4 49.5M183.0 46.1L183.0 52.9" stroke="#e89200" stroke-width="2.6" fill="none"/><path d="M184.2 49.9L191.0 49.9M187.6 46.5L187.6 53.3" stroke="#e89200" stroke-width="2.6" fill="none"/><path d="M188.8 50.2L195.6 50.2M192.2 46.8L192.2 53.6" stroke="#e89200" stroke-width="2.6" fill="none"/><path d="M193.4 50.5L200.2 50.5M196.8 47.1L196.8 53.9" stroke="#e89200" stroke-width="2.6" fill="none"/><path d="M198.0 50.9L204.8 50.9M201.4 47.5L201.4 54.3" stroke="#e89200" stroke-width="2.6" fill="none"/><path d="M202.6 51.2L209.4 51.2M206.0 47.8L206.0 54.6" stroke="#e89200" stroke-width="2.6" fill="none"/><path d="M203.1 51.2L208.9 51.2M206.0 48.3L206.0 54.1" stroke="#e89200" stroke-width="2.2" fill="none"/><path d="M206.5 51.4L212.3 51.4M209.4 48.5L209.4 54.3" stroke="#e89200" stroke-width="2.2" fill="none"/><path d="M210.0 51.7L215.8 51.7M212.9 48.8L212.9 54.6" stroke="#e89200" stroke-width="2.2" fill="none"/><path d="M213.4 51.9L219.2 51.9M216.3 49.0L216.3 54.8" stroke="#e89200" stroke-width="2.2" fill="none"/><path d="M216.9 52.2L222.7 52.2M219.8 49.3L219.8 55.1" stroke="#e89200" stroke-width="2.2" fill="none"/><path d="M220.3 52.4L226.1 52.4M223.2 49.5L223.2 55.3" stroke="#e89200" stroke-width="2.2" fill="none"/><path d="M223.8 52.7L229.6 52.7M226.7 49.8L226.7 55.6" stroke="#e89200" stroke-width="2.2" fill="none"/><path d="M227.2 53.0L233.0 53.0M230.1 50.1L230.1 55.9" stroke="#e89200" stroke-width="2.2" fill="none"/><path d="M230.6 53.2L236.4 53.2M233.5 50.3L233.5 56.1" stroke="#e89200" stroke-width="2.2" fill="none"/><path d="M234.1 53.5L239.9 53.5M237.0 50.6L237.0 56.4" stroke="#e89200" stroke-width="2.2" fill="none"/><path d="M237.5 53.7L243.3 53.7M240.4 50.8L240.4 56.6" stroke="#e89200" stroke-width="2.2" fill="none"/><path d="M241.0 54.0L246.8 54.0M243.9 51.1L243.9 56.9" stroke="#e89200" stroke-width="2.2" fill="none"/><path d="M244.4 54.3L250.2 54.3M247.3 51.4L247.3 57.2" stroke="#e89200" stroke-width="2.2" fill="none"/><path d="M247.8 54.5L253.6 54.5M250.7 51.6L250.7 57.4" stroke="#e89200" stroke-width="2.2" fill="none"/><path d="M251.3 54.8L257.1 54.8M254.2 51.9L254.2 57.7" stroke="#e89200" stroke-width="2.2" fill="none"/><path d="M254.7 55.1L260.5 55.1M257.6 52.2L257.6 58.0" stroke="#e89200" stroke-width="2.2" fill="none"/><path d="M258.2 55.3L264.0 55.3M261.1 52.4L261.1 58.2" stroke="#e89200" stroke-width="2.2" fill="none"/><path d="M261.6 55.6L267.4 55.6M264.5 52.7L264.5 58.5" stroke="#e89200" stroke-width="2.2" fill="none"/><path d="M265.1 55.9L270.9 55.9M268.0 53.0L268.0 58.8" stroke="#e89200" stroke-width="2.2" fill="none"/><path d="M268.5 56.1L274.3 56.1M271.4 53.2L271.4 59.0" stroke="#e89200" stroke-width="2.2" fill="none"/><path d="M271.9 56.4L277.7 56.4M274.8 53.5L274.8 59.3" stroke="#e89200" stroke-width="2.2" fill="none"/><path d="M275.4 56.7L281.2 56.7M278.3 53.8L278.3 59.6" stroke="#e89200" stroke-width="2.2" fill="none"/><path d="M278.8 57.0L284.6 57.0M281.7 54.1L281.7 59.9" stroke="#e89200" stroke-width="2.2" fill="none"/><path d="M282.3 57.2L288.1 57.2M285.2 54.3L285.2 60.1" stroke="#e89200" stroke-width="2.2" fill="none"/><path d="M285.7 57.5L291.5 57.5M288.6 54.6L288.6 60.4" stroke="#e89200" stroke-width="2.2" fill="none"/><path d="M289.2 57.8L295.0 57.8M292.1 54.9L292.1 60.7" stroke="#e89200" stroke-width="2.2" fill="none"/><path d="M292.6 58.1L298.4 58.1M295.5 55.2L295.5 61.0" stroke="#e89200" stroke-width="2.2" fill="none"/><path d="M296.0 58.4L301.8 58.4M298.9 55.5L298.9 61.3" stroke="#e89200" stroke-width="2.2" fill="none"/><path d="M299.5 58.7L305.3 58.7M302.4 55.8L302.4 61.6" stroke="#e89200" stroke-width="2.2" fill="none"/><path d="M302.9 59.0L308.7 59.0M305.8 56.1L305.8 61.9" stroke="#e89200" stroke-width="2.2" fill="none"/><path d="M306.4 59.2L312.2 59.2M309.3 56.3L309.3 62.1" stroke="#e89200" stroke-width="2.2" fill="none"/><path d="M309.8 59.5L315.6 59.5M312.7 56.6L312.7 62.4" stroke="#e89200" stroke-width="2.2" fill="none"/><path d="M313.3 59.8L319.1 59.8M316.2 56.9L316.2 62.7" stroke="#e89200" stroke-width="2.2" fill="none"/><path d="M316.7 60.1L322.5 60.1M319.6 57.2L319.6 63.0" stroke="#e89200" stroke-width="2.2" fill="none"/><path d="M320.1 60.4L325.9 60.4M323.0 57.5L323.0 63.3" stroke="#e89200" stroke-width="2.2" fill="none"/><path d="M323.6 60.7L329.4 60.7M326.5 57.8L326.5 63.6" stroke="#e89200" stroke-width="2.2" fill="none"/><path d="M327.0 61.0L332.8 61.0M329.9 58.1L329.9 63.9" stroke="#e89200" stroke-width="2.2" fill="none"/><path d="M330.5 61.3L336.3 61.3M333.4 58.4L333.4 64.2" stroke="#e89200" stroke-width="2.2" fill="none"/><path d="M333.9 61.6L339.7 61.6M336.8 58.7L336.8 64.5" stroke="#e89200" stroke-width="2.2" fill="none"/><path d="M337.3 61.9L343.1 61.9M340.2 59.0L340.2 64.8" stroke="#e89200" stroke-width="2.2" fill="none"/><path d="M340.8 62.2L346.6 62.2M343.7 59.3L343.7 65.1" stroke="#e89200" stroke-width="2.2" fill="none"/><path d="M344.2 62.5L350.0 62.5M347.1 59.6L347.1 65.4" stroke="#e89200" stroke-width="2.2" fill="none"/><path d="M347.7 62.8L353.5 62.8M350.6 59.9L350.6 65.7" stroke="#e89200" stroke-width="2.2" fill="none"/><path d="M351.1 63.1L356.9 63.1M354.0 60.2L354.0 66.0" stroke="#e89200" stroke-width="2.2" fill="none"/><path d="M354.6 63.4L360.4 63.4M357.5 60.5L357.5 66.3" stroke="#e89200" stroke-width="2.2" fill="none"/><path d="M358.0 63.8L363.8 63.8M360.9 60.9L360.9 66.7" stroke="#e89200" stroke-width="2.2" fill="none"/><path d="M361.4 64.1L367.2 64.1M364.3 61.2L364.3 67.0" stroke="#e89200" stroke-width="2.2" fill="none"/><path d="M364.9 64.4L370.7 64.4M367.8 61.5L367.8 67.3" stroke="#e89200" stroke-width="2.2" fill="none"/><polyline points="204.0,51.0 207.1,51.3 210.1,51.5 213.2,51.7 216.3,51.9 219.3,52.2 222.4,52.4 225.5,52.6 228.5,52.8 231.6,53.1 234.7,53.3 237.7,53.5 240.8,53.8 243.9,54.0 246.9,54.2 250.0,54.5" fill="none" stroke="#e89200" stroke-width="5.4" stroke-linejoin="round"/><polyline points="250.0,54.5 253.0,54.7 256.0,54.9 259.0,55.2 262.0,55.4 265.0,55.6 268.0,55.9 271.0,56.1 274.0,56.4 277.0,56.6 280.0,56.8 283.0,57.1 286.0,57.3 289.0,57.6 292.0,57.8" fill="none" stroke="#e89200" stroke-width="6.2" stroke-linejoin="round"/></g>
<g><polyline points="151.6,36.0 154.6,36.2 157.6,36.3 160.6,36.5 163.6,36.7 166.6,36.9 169.6,37.0 172.6,37.2 175.6,37.4 178.6,37.6 181.6,37.7 184.6,37.9 187.6,38.1 190.6,38.3 193.6,38.4 196.7,38.6 199.7,38.8 202.7,39.0 205.7,39.2 208.7,39.4 211.7,39.5 214.7,39.7 217.7,39.9 220.7,40.1 223.7,40.3 226.7,40.5 229.7,40.7 232.7,40.8 235.7,41.0 238.7,41.2 241.7,41.4 244.7,41.6 247.7,41.8 250.7,42.0 253.7,42.2 256.7,42.4 259.7,42.6 262.7,42.8 265.7,43.0 268.7,43.2 271.7,43.4 274.7,43.6 277.7,43.7 280.7,43.9 283.7,44.1 286.7,44.4 289.7,44.6 292.7,44.8 295.7,45.0 298.7,45.2 301.7,45.4 304.7,45.6 307.7,45.8 310.7,46.0 313.7,46.2 316.7,46.4 319.7,46.6 322.7,46.8 325.8,47.0 328.8,47.3 331.8,47.5 334.8,47.7 337.8,47.9 340.8,48.1 343.8,48.3 346.8,48.5 349.8,48.8 352.8,49.0 355.8,49.2 358.8,49.4 361.8,49.6 364.8,49.9 367.8,50.1" fill="none" stroke="#efae00" stroke-width="3.4" stroke-linejoin="round"/><path d="M148.2 36.0L155.0 36.0M151.6 32.6L151.6 39.4" stroke="#efae00" stroke-width="2.6" fill="none"/><path d="M153.1 36.3L159.9 36.3M156.5 32.9L156.5 39.7" stroke="#efae00" stroke-width="2.6" fill="none"/><path d="M157.9 36.5L164.7 36.5M161.3 33.1L161.3 39.9" stroke="#efae00" stroke-width="2.6" fill="none"/><path d="M162.8 36.8L169.6 36.8M166.2 33.4L166.2 40.2" stroke="#efae00" stroke-width="2.6" fill="none"/><path d="M167.7 37.1L174.5 37.1M171.1 33.7L171.1 40.5" stroke="#efae00" stroke-width="2.6" fill="none"/><path d="M172.5 37.4L179.3 37.4M175.9 34.0L175.9 40.8" stroke="#efae00" stroke-width="2.6" fill="none"/><path d="M177.4 37.7L184.2 37.7M180.8 34.3L180.8 41.1" stroke="#efae00" stroke-width="2.6" fill="none"/><path d="M182.3 38.0L189.1 38.0M185.7 34.6L185.7 41.4" stroke="#efae00" stroke-width="2.6" fill="none"/><path d="M187.1 38.3L193.9 38.3M190.5 34.9L190.5 41.7" stroke="#efae00" stroke-width="2.6" fill="none"/><path d="M192.0 38.6L198.8 38.6M195.4 35.2L195.4 42.0" stroke="#efae00" stroke-width="2.6" fill="none"/><path d="M196.9 38.8L203.7 38.8M200.3 35.4L200.3 42.2" stroke="#efae00" stroke-width="2.6" fill="none"/><path d="M201.7 39.1L208.5 39.1M205.1 35.7L205.1 42.5" stroke="#efae00" stroke-width="2.6" fill="none"/><path d="M206.6 39.4L213.4 39.4M210.0 36.0L210.0 42.8" stroke="#efae00" stroke-width="2.6" fill="none"/><path d="M206.9 39.4L213.1 39.4M210.0 36.3L210.0 42.5" stroke="#efae00" stroke-width="2.4" fill="none"/><path d="M210.6 39.7L216.8 39.7M213.7 36.6L213.7 42.8" stroke="#efae00" stroke-width="2.4" fill="none"/><path d="M214.2 39.9L220.4 39.9M217.3 36.8L217.3 43.0" stroke="#efae00" stroke-width="2.4" fill="none"/><path d="M217.9 40.1L224.1 40.1M221.0 37.0L221.0 43.2" stroke="#efae00" stroke-width="2.4" fill="none"/><path d="M221.6 40.3L227.8 40.3M224.7 37.2L224.7 43.4" stroke="#efae00" stroke-width="2.4" fill="none"/><path d="M225.2 40.6L231.4 40.6M228.3 37.5L228.3 43.7" stroke="#efae00" stroke-width="2.4" fill="none"/><path d="M228.9 40.8L235.1 40.8M232.0 37.7L232.0 43.9" stroke="#efae00" stroke-width="2.4" fill="none"/><path d="M232.6 41.0L238.8 41.0M235.7 37.9L235.7 44.1" stroke="#efae00" stroke-width="2.4" fill="none"/><path d="M236.3 41.3L242.5 41.3M239.4 38.2L239.4 44.4" stroke="#efae00" stroke-width="2.4" fill="none"/><path d="M239.9 41.5L246.1 41.5M243.0 38.4L243.0 44.6" stroke="#efae00" stroke-width="2.4" fill="none"/><path d="M243.6 41.7L249.8 41.7M246.7 38.6L246.7 44.8" stroke="#efae00" stroke-width="2.4" fill="none"/><path d="M247.3 42.0L253.5 42.0M250.4 38.9L250.4 45.1" stroke="#efae00" stroke-width="2.4" fill="none"/><path d="M250.9 42.2L257.1 42.2M254.0 39.1L254.0 45.3" stroke="#efae00" stroke-width="2.4" fill="none"/><path d="M254.6 42.4L260.8 42.4M257.7 39.3L257.7 45.5" stroke="#efae00" stroke-width="2.4" fill="none"/><path d="M258.3 42.7L264.5 42.7M261.4 39.6L261.4 45.8" stroke="#efae00" stroke-width="2.4" fill="none"/><path d="M261.9 42.9L268.1 42.9M265.0 39.8L265.0 46.0" stroke="#efae00" stroke-width="2.4" fill="none"/><path d="M265.6 43.2L271.8 43.2M268.7 40.1L268.7 46.3" stroke="#efae00" stroke-width="2.4" fill="none"/><path d="M269.3 43.4L275.5 43.4M272.4 40.3L272.4 46.5" stroke="#efae00" stroke-width="2.4" fill="none"/><path d="M272.9 43.6L279.1 43.6M276.0 40.5L276.0 46.7" stroke="#efae00" stroke-width="2.4" fill="none"/><path d="M276.6 43.9L282.8 43.9M279.7 40.8L279.7 47.0" stroke="#efae00" stroke-width="2.4" fill="none"/><path d="M280.3 44.1L286.5 44.1M283.4 41.0L283.4 47.2" stroke="#efae00" stroke-width="2.4" fill="none"/><path d="M284.0 44.4L290.2 44.4M287.1 41.3L287.1 47.5" stroke="#efae00" stroke-width="2.4" fill="none"/><path d="M287.6 44.6L293.8 44.6M290.7 41.5L290.7 47.7" stroke="#efae00" stroke-width="2.4" fill="none"/><path d="M291.3 44.9L297.5 44.9M294.4 41.8L294.4 48.0" stroke="#efae00" stroke-width="2.4" fill="none"/><path d="M295.0 45.1L301.2 45.1M298.1 42.0L298.1 48.2" stroke="#efae00" stroke-width="2.4" fill="none"/><path d="M298.6 45.4L304.8 45.4M301.7 42.3L301.7 48.5" stroke="#efae00" stroke-width="2.4" fill="none"/><path d="M302.3 45.6L308.5 45.6M305.4 42.5L305.4 48.7" stroke="#efae00" stroke-width="2.4" fill="none"/><path d="M306.0 45.9L312.2 45.9M309.1 42.8L309.1 49.0" stroke="#efae00" stroke-width="2.4" fill="none"/><path d="M309.6 46.1L315.8 46.1M312.7 43.0L312.7 49.2" stroke="#efae00" stroke-width="2.4" fill="none"/><path d="M313.3 46.4L319.5 46.4M316.4 43.3L316.4 49.5" stroke="#efae00" stroke-width="2.4" fill="none"/><path d="M317.0 46.6L323.2 46.6M320.1 43.5L320.1 49.7" stroke="#efae00" stroke-width="2.4" fill="none"/><path d="M320.7 46.9L326.9 46.9M323.8 43.8L323.8 50.0" stroke="#efae00" stroke-width="2.4" fill="none"/><path d="M324.3 47.2L330.5 47.2M327.4 44.1L327.4 50.3" stroke="#efae00" stroke-width="2.4" fill="none"/><path d="M328.0 47.4L334.2 47.4M331.1 44.3L331.1 50.5" stroke="#efae00" stroke-width="2.4" fill="none"/><path d="M331.7 47.7L337.9 47.7M334.8 44.6L334.8 50.8" stroke="#efae00" stroke-width="2.4" fill="none"/><path d="M335.3 47.9L341.5 47.9M338.4 44.8L338.4 51.0" stroke="#efae00" stroke-width="2.4" fill="none"/><path d="M339.0 48.2L345.2 48.2M342.1 45.1L342.1 51.3" stroke="#efae00" stroke-width="2.4" fill="none"/><path d="M342.7 48.5L348.9 48.5M345.8 45.4L345.8 51.6" stroke="#efae00" stroke-width="2.4" fill="none"/><path d="M346.3 48.7L352.5 48.7M349.4 45.6L349.4 51.8" stroke="#efae00" stroke-width="2.4" fill="none"/><path d="M350.0 49.0L356.2 49.0M353.1 45.9L353.1 52.1" stroke="#efae00" stroke-width="2.4" fill="none"/><path d="M353.7 49.3L359.9 49.3M356.8 46.2L356.8 52.4" stroke="#efae00" stroke-width="2.4" fill="none"/><path d="M357.3 49.5L363.5 49.5M360.4 46.4L360.4 52.6" stroke="#efae00" stroke-width="2.4" fill="none"/><path d="M361.0 49.8L367.2 49.8M364.1 46.7L364.1 52.9" stroke="#efae00" stroke-width="2.4" fill="none"/><path d="M364.7 50.1L370.9 50.1M367.8 47.0L367.8 53.2" stroke="#efae00" stroke-width="2.4" fill="none"/><polyline points="208.0,39.3 211.2,39.5 214.3,39.7 217.5,39.9 220.7,40.1 223.8,40.3 227.0,40.5 230.2,40.7 233.3,40.9 236.5,41.1 239.7,41.3 242.8,41.5 246.0,41.7" fill="none" stroke="#efae00" stroke-width="5.8" stroke-linejoin="round"/><polyline points="246.0,41.7 249.2,41.9 252.4,42.1 255.6,42.3 258.8,42.5 262.0,42.7 265.2,42.9 268.4,43.1 271.6,43.3 274.8,43.6 278.0,43.8" fill="none" stroke="#efae00" stroke-width="4.6" stroke-linejoin="round"/><polyline points="278.0,43.8 281.0,44.0 284.0,44.2 287.0,44.4 290.0,44.6 293.0,44.8 296.0,45.0 299.0,45.2 302.0,45.4 305.0,45.6 308.0,45.8 311.0,46.0 314.0,46.2 317.0,46.4" fill="none" stroke="#efae00" stroke-width="6.2" stroke-linejoin="round"/></g>
<g><polyline points="165.7,26.9 168.7,27.1 171.7,27.2 174.7,27.4 177.7,27.5 180.8,27.7 183.8,27.8 186.8,28.0 189.8,28.2 192.8,28.3 195.8,28.5 198.8,28.6 201.8,28.8 204.8,28.9 207.8,29.1 210.8,29.2 213.8,29.4 216.9,29.6 219.9,29.7 222.9,29.9 225.9,30.0 228.9,30.2 231.9,30.4 234.9,30.5 237.9,30.7 240.9,30.9 243.9,31.0 246.9,31.2 249.9,31.4 253.0,31.5 256.0,31.7 259.0,31.9 262.0,32.0 265.0,32.2 268.0,32.4 271.0,32.5" fill="none" stroke="#f5ca00" stroke-width="2.6" stroke-linejoin="round"/><path d="M162.1 26.9L169.3 26.9M165.7 23.3L165.7 30.5" stroke="#f5ca00" stroke-width="2.6" fill="none"/><path d="M166.9 27.2L174.1 27.2M170.5 23.6L170.5 30.8" stroke="#f5ca00" stroke-width="2.6" fill="none"/><path d="M171.7 27.4L178.9 27.4M175.3 23.8L175.3 31.0" stroke="#f5ca00" stroke-width="2.6" fill="none"/><path d="M176.5 27.7L183.7 27.7M180.1 24.1L180.1 31.3" stroke="#f5ca00" stroke-width="2.6" fill="none"/><path d="M181.3 27.9L188.5 27.9M184.9 24.3L184.9 31.5" stroke="#f5ca00" stroke-width="2.6" fill="none"/><path d="M186.0 28.1L193.2 28.1M189.6 24.5L189.6 31.7" stroke="#f5ca00" stroke-width="2.6" fill="none"/><path d="M190.8 28.4L198.0 28.4M194.4 24.8L194.4 32.0" stroke="#f5ca00" stroke-width="2.6" fill="none"/><path d="M195.6 28.6L202.8 28.6M199.2 25.0L199.2 32.2" stroke="#f5ca00" stroke-width="2.6" fill="none"/><path d="M200.4 28.9L207.6 28.9M204.0 25.3L204.0 32.5" stroke="#f5ca00" stroke-width="2.6" fill="none"/><path d="M205.2 29.1L212.4 29.1M208.8 25.5L208.8 32.7" stroke="#f5ca00" stroke-width="2.6" fill="none"/><path d="M210.0 29.4L217.2 29.4M213.6 25.8L213.6 33.0" stroke="#f5ca00" stroke-width="2.6" fill="none"/><path d="M214.8 29.6L222.0 29.6M218.4 26.0L218.4 33.2" stroke="#f5ca00" stroke-width="2.6" fill="none"/><path d="M219.5 29.9L226.7 29.9M223.1 26.3L223.1 33.5" stroke="#f5ca00" stroke-width="2.6" fill="none"/><path d="M224.3 30.2L231.5 30.2M227.9 26.6L227.9 33.8" stroke="#f5ca00" stroke-width="2.6" fill="none"/><path d="M229.1 30.4L236.3 30.4M232.7 26.8L232.7 34.0" stroke="#f5ca00" stroke-width="2.6" fill="none"/><path d="M233.9 30.7L241.1 30.7M237.5 27.1L237.5 34.3" stroke="#f5ca00" stroke-width="2.6" fill="none"/><path d="M238.7 30.9L245.9 30.9M242.3 27.3L242.3 34.5" stroke="#f5ca00" stroke-width="2.6" fill="none"/><path d="M243.5 31.2L250.7 31.2M247.1 27.6L247.1 34.8" stroke="#f5ca00" stroke-width="2.6" fill="none"/><path d="M248.3 31.5L255.5 31.5M251.9 27.9L251.9 35.1" stroke="#f5ca00" stroke-width="2.6" fill="none"/><path d="M253.0 31.7L260.2 31.7M256.6 28.1L256.6 35.3" stroke="#f5ca00" stroke-width="2.6" fill="none"/><path d="M257.8 32.0L265.0 32.0M261.4 28.4L261.4 35.6" stroke="#f5ca00" stroke-width="2.6" fill="none"/><path d="M262.6 32.3L269.8 32.3M266.2 28.7L266.2 35.9" stroke="#f5ca00" stroke-width="2.6" fill="none"/><path d="M267.4 32.5L274.6 32.5M271.0 28.9L271.0 36.1" stroke="#f5ca00" stroke-width="2.6" fill="none"/><polyline points="268.0,32.4 271.0,32.5 274.0,32.7 277.1,32.9 280.1,33.0 283.1,33.2 286.1,33.4 289.2,33.6 292.2,33.7 295.2,33.9 298.2,34.1 301.3,34.3 304.3,34.4 307.3,34.6 310.3,34.8 313.4,35.0 316.4,35.1 319.4,35.3 322.4,35.5 325.5,35.7 328.5,35.9 331.5,36.0 334.5,36.2 337.5,36.4 340.6,36.6 343.6,36.8 346.6,37.0 349.6,37.2 352.7,37.3 355.7,37.5 358.7,37.7 361.7,37.9 364.8,38.1 367.8,38.3" fill="none" stroke="#f5ca00" stroke-width="6.0" stroke-linejoin="round"/></g>
<g><polyline points="180.9,19.0 183.9,19.1 186.9,19.3 189.9,19.4 192.9,19.5 195.9,19.7 198.9,19.8 201.9,19.9 204.9,20.1 207.9,20.2 210.9,20.3 213.9,20.5 216.9,20.6 219.9,20.8 222.9,20.9 225.9,21.0 228.9,21.2 231.9,21.3 234.9,21.5 237.9,21.6 240.9,21.8 243.9,21.9 246.9,22.0 249.9,22.2 252.9,22.3 255.9,22.5 258.9,22.6 261.9,22.8 264.9,22.9 267.9,23.1 270.9,23.2 273.9,23.4 276.9,23.5 279.9,23.7 283.0,23.8 286.0,24.0 289.0,24.1 292.0,24.3 295.0,24.4 298.0,24.6 301.0,24.7 304.0,24.9 307.0,25.0 310.0,25.2 313.0,25.3 316.0,25.5 319.0,25.6 322.0,25.8 325.0,25.9 328.0,26.1 331.0,26.2 334.0,26.4 337.0,26.6 340.0,26.7 343.0,26.9 346.0,27.0 349.0,27.2 352.0,27.4 355.0,27.5 358.0,27.7 361.0,27.8 364.0,28.0" fill="none" stroke="#fae500" stroke-width="2.2" stroke-linejoin="round"/><path d="M233.5 21.6L240.5 21.6M237.0 18.1L237.0 25.1" stroke="#fae500" stroke-width="3.0" fill="none"/><path d="M278.1 23.7L285.1 23.7M281.6 20.2L281.6 27.2" stroke="#fae500" stroke-width="3.0" fill="none"/><path d="M316.1 25.7L323.1 25.7M319.6 22.2L319.6 29.2" stroke="#fae500" stroke-width="3.0" fill="none"/><path d="M346.5 27.3L353.5 27.3M350.0 23.8L350.0 30.8" stroke="#fae500" stroke-width="3.0" fill="none"/></g>
<g><polyline points="197.9,11.9 200.9,12.1 204.0,12.2 207.0,12.3 210.0,12.4 213.0,12.6 216.0,12.7 219.1,12.8 222.1,12.9 225.1,13.1 228.1,13.2 231.1,13.3 234.2,13.4 237.2,13.6 240.2,13.7 243.2,13.8 246.2,14.0 249.3,14.1 252.3,14.2 255.3,14.3 258.3,14.5 261.3,14.6 264.4,14.7 267.4,14.9 270.4,15.0 273.4,15.1 276.4,15.3 279.5,15.4 282.5,15.5 285.5,15.7 288.5,15.8 291.5,15.9 294.6,16.1 297.6,16.2 300.6,16.3 303.6,16.5 306.6,16.6 309.6,16.7 312.7,16.9 315.7,17.0 318.7,17.1 321.7,17.3 324.7,17.4 327.8,17.6 330.8,17.7 333.8,17.8 336.8,18.0 339.8,18.1 342.9,18.3 345.9,18.4 348.9,18.5 351.9,18.7 354.9,18.8 358.0,19.0 361.0,19.1 364.0,19.3" fill="none" stroke="#ffff00" stroke-width="2.2" stroke-linejoin="round"/><path d="M261.2 14.7L268.2 14.7M264.7 11.2L264.7 18.2" stroke="#ffff00" stroke-width="3.0" fill="none"/><path d="M314.8 17.1L321.8 17.1M318.3 13.6L318.3 20.6" stroke="#ffff00" stroke-width="3.0" fill="none"/><path d="M356.0 19.0L363.0 19.0M359.5 15.5L359.5 22.5" stroke="#ffff00" stroke-width="3.0" fill="none"/></g>
<path d="M57.7 211.5L64.9 211.5M61.3 207.9L61.3 215.1" stroke="#000000" stroke-width="3.4" fill="none"/>
<path d="M57.7 199.1L64.9 199.1M61.3 195.5L61.3 202.7" stroke="#3f005f" stroke-width="3.4" fill="none"/>
<path d="M57.7 188.5L64.9 188.5M61.3 184.9L61.3 192.1" stroke="#5500a5" stroke-width="3.4" fill="none"/>
<path d="M57.7 179.4L64.9 179.4M61.3 175.8L61.3 183.0" stroke="#6501d5" stroke-width="3.4" fill="none"/>
<path d="M57.7 171.4L64.9 171.4M61.3 167.8L61.3 175.0" stroke="#7102f1" stroke-width="3.4" fill="none"/>
<path d="M58.6 164.1L63.4 164.1M61.0 161.7L61.0 166.5" stroke="#7b03fd" stroke-width="2.4" fill="none"/>
<path d="M58.6 157.6L63.4 157.6M61.0 155.2L61.0 160.0" stroke="#8305fe" stroke-width="2.4" fill="none"/>
<path d="M58.6 151.7L63.4 151.7M61.0 149.3L61.0 154.1" stroke="#8a06f6" stroke-width="2.4" fill="none"/>
<path d="M58.6 146.2L63.4 146.2M61.0 143.8L61.0 148.6" stroke="#9008e7" stroke-width="2.4" fill="none"/>
<path d="M58.6 141.1L63.4 141.1M61.0 138.7L61.0 143.5" stroke="#950ad4" stroke-width="2.4" fill="none"/>
<path d="M58.6 136.4L63.4 136.4M61.0 134.0L61.0 138.8" stroke="#9a0dbd" stroke-width="2.4" fill="none"/>
<path d="M58.6 132.0L63.4 132.0M61.0 129.6L61.0 134.4" stroke="#9f0fa5" stroke-width="2.4" fill="none"/>
</g>
<polygon fill="#bdbdbd" fill-opacity="0.5" points="61.3,168.4 61.3,143.6 68.9,129.9 78.3,109.0 90.1,91.6 100.0,80.1 120.0,58.0 141.7,43.4 157.6,31.8 174.8,21.7 192.2,13.9 206.8,8.7 212.7,6.7 364.0,6.7 364.0,67.7 306.9,79.0 272.2,85.5 238.4,92.5 212.4,98.5 190.7,105.0 172.0,113.0 161.8,119.0 156.0,121.6 156.0,220.3 137.0,206.3 118.1,194.7 99.2,184.7 80.2,176.1"/>
<path d="M364.3 35.8L367.2 38.0L364.3 40.2Z" fill="#f5ca00"/>
<path d="M364.3 61.8L367.2 64.0L364.3 66.2Z" fill="#e89200"/>
<rect x="42.4" y="6.7" width="321.6" height="267.5" fill="none" stroke="#000" stroke-opacity="0.8" stroke-width="0.9"/>
<path d="M42.40 274.2v-2.9M42.40 6.7v2.9M61.32 274.2v-5.8M61.32 6.7v5.8M80.24 274.2v-2.9M80.24 6.7v2.9M99.15 274.2v-2.9M99.15 6.7v2.9M118.07 274.2v-2.9M118.07 6.7v2.9M136.99 274.2v-2.9M136.99 6.7v2.9M155.91 274.2v-5.8M155.91 6.7v5.8M174.82 274.2v-2.9M174.82 6.7v2.9M193.74 274.2v-2.9M193.74 6.7v2.9M212.66 274.2v-2.9M212.66 6.7v2.9M231.58 274.2v-2.9M231.58 6.7v2.9M250.49 274.2v-5.8M250.49 6.7v5.8M269.41 274.2v-2.9M269.41 6.7v2.9M288.33 274.2v-2.9M288.33 6.7v2.9M307.25 274.2v-2.9M307.25 6.7v2.9M326.16 274.2v-2.9M326.16 6.7v2.9M345.08 274.2v-5.8M345.08 6.7v5.8M364.00 274.2v-2.9M364.00 6.7v2.9M42.4 274.20h2.9M364.0 274.20h-2.9M42.4 246.47h2.9M364.0 246.47h-2.9M42.4 226.80h2.9M364.0 226.80h-2.9M42.4 211.55h2.9M364.0 211.55h-2.9M42.4 199.08h2.9M364.0 199.08h-2.9M42.4 188.54h2.9M364.0 188.54h-2.9M42.4 179.41h2.9M364.0 179.41h-2.9M42.4 171.35h2.9M364.0 171.35h-2.9M42.4 164.15h5.8M364.0 164.15h-5.8M42.4 116.75h2.9M364.0 116.75h-2.9M42.4 89.03h2.9M364.0 89.03h-2.9M42.4 69.35h2.9M364.0 69.35h-2.9M42.4 54.10h2.9M364.0 54.10h-2.9M42.4 41.63h2.9M364.0 41.63h-2.9M42.4 31.09h2.9M364.0 31.09h-2.9M42.4 21.96h2.9M364.0 21.96h-2.9M42.4 13.90h2.9M364.0 13.90h-2.9M42.4 6.70h5.8M364.0 6.70h-5.8" stroke="#222" stroke-width="0.7" fill="none"/>
<defs><linearGradient id="cb" x1="0" y1="1" x2="0" y2="0">
<stop offset="0.0000" stop-color="#000000"/>
<stop offset="0.0250" stop-color="#280028"/>
<stop offset="0.0500" stop-color="#39004f"/>
<stop offset="0.0750" stop-color="#460074"/>
<stop offset="0.1000" stop-color="#510096"/>
<stop offset="0.1250" stop-color="#5a00b4"/>
<stop offset="0.1500" stop-color="#6301ce"/>
<stop offset="0.1750" stop-color="#6b01e3"/>
<stop offset="0.2000" stop-color="#7202f3"/>
<stop offset="0.2250" stop-color="#7903fc"/>
<stop offset="0.2500" stop-color="#8004ff"/>
<stop offset="0.2750" stop-color="#8605fc"/>
<stop offset="0.3000" stop-color="#8c07f3"/>
<stop offset="0.3250" stop-color="#9109e3"/>
<stop offset="0.3500" stop-color="#970bce"/>
<stop offset="0.3750" stop-color="#9c0db4"/>
<stop offset="0.4000" stop-color="#a11096"/>
<stop offset="0.4250" stop-color="#a61474"/>
<stop offset="0.4500" stop-color="#ab174f"/>
<stop offset="0.4750" stop-color="#b01b28"/>
<stop offset="0.5000" stop-color="#b42000"/>
<stop offset="0.5250" stop-color="#b92500"/>
<stop offset="0.5500" stop-color="#bd2a00"/>
<stop offset="0.5750" stop-color="#c13000"/>
<stop offset="0.6000" stop-color="#c63700"/>
<stop offset="0.6250" stop-color="#ca3e00"/>
<stop offset="0.6500" stop-color="#ce4600"/>
<stop offset="0.6750" stop-color="#d24e00"/>
<stop offset="0.7000" stop-color="#d55700"/>
<stop offset="0.7250" stop-color="#d96100"/>
<stop offset="0.7500" stop-color="#dd6c00"/>
<stop offset="0.7750" stop-color="#e07700"/>
<stop offset="0.8000" stop-color="#e48300"/>
<stop offset="0.8250" stop-color="#e88f00"/>
<stop offset="0.8500" stop-color="#eb9d00"/>
<stop offset="0.8750" stop-color="#efab00"/>
<stop offset="0.9000" stop-color="#f2ba00"/>
<stop offset="0.9250" stop-color="#f5ca00"/>
<stop offset="0.9500" stop-color="#f9db00"/>
<stop offset="0.9750" stop-color="#fcec00"/>
<stop offset="1.0000" stop-color="#ffff00"/>
</linearGradient></defs>
<rect x="372.2" y="6.7" width="15.900000000000034" height="267.5" fill="url(#cb)" stroke="#000" stroke-opacity="0.8" stroke-width="0.9"/>
<path d="M372.2 257.92h3.3M388.1 257.92h-3.3M372.2 244.16h3.3M388.1 244.16h-3.3M372.2 232.23h3.3M388.1 232.23h-3.3M372.2 221.71h3.3M388.1 221.71h-3.3M372.2 212.31h5.0M388.1 212.31h-5.0M372.2 150.41h3.3M388.1 150.41h-3.3M372.2 114.21h3.3M388.1 114.21h-3.3M372.2 88.52h3.3M388.1 88.52h-3.3M372.2 68.59h3.3M388.1 68.59h-3.3M372.2 52.31h3.3M388.1 52.31h-3.3M372.2 38.55h3.3M388.1 38.55h-3.3M372.2 26.63h3.3M388.1 26.63h-3.3M372.2 16.11h3.3M388.1 16.11h-3.3" stroke="#000" stroke-width="1.1" fill="none"/>
<path d="M309.9 232.2H348.4" stroke="#000" stroke-width="2.2"/>
<path d="M325.8 232.2L332.4 232.2M329.1 228.9L329.1 235.5" stroke="#000" stroke-width="2.2" fill="none"/>
<path d="M309.9 246.8H348.4" stroke="#000" stroke-width="1.1"/>
<path d="M327.3 245.0L330.9 248.6M327.3 248.6L330.9 245.0" stroke="#000" stroke-width="1.0" fill="none"/>
<rect x="309.8" y="257.1" width="38.4" height="8.0" fill="#dedede"/>
<text x="24.8" y="12.0" textLength="14.4" lengthAdjust="spacingAndGlyphs" style="font-family:'Liberation Serif',serif;font-size:15.4px;fill:#000">10</text>
<text x="32.6" y="169.4" textLength="7.2" lengthAdjust="spacingAndGlyphs" style="font-family:'Liberation Serif',serif;font-size:15.4px;fill:#000">1</text>
<text x="51.9" y="289.9" textLength="18.7" lengthAdjust="spacingAndGlyphs" style="font-family:'Liberation Serif',serif;font-size:15.4px;fill:#000">0.0</text>
<text x="146.5" y="289.9" textLength="18.7" lengthAdjust="spacingAndGlyphs" style="font-family:'Liberation Serif',serif;font-size:15.4px;fill:#000">0.5</text>
<text x="241.1" y="289.9" textLength="18.7" lengthAdjust="spacingAndGlyphs" style="font-family:'Liberation Serif',serif;font-size:15.4px;fill:#000">1.0</text>
<text x="335.7" y="289.9" textLength="18.7" lengthAdjust="spacingAndGlyphs" style="font-family:'Liberation Serif',serif;font-size:15.4px;fill:#000">1.5</text>
<text x="390.0" y="13.0" textLength="15.2" lengthAdjust="spacingAndGlyphs" style="font-family:'Liberation Serif',serif;font-size:15.4px;fill:#000">10</text>
<text x="389.6" y="218.7" textLength="7.2" lengthAdjust="spacingAndGlyphs" style="font-family:'Liberation Serif',serif;font-size:15.4px;fill:#000">1</text>
<text id="l1" x="229.8" y="236.4" textLength="71.4" lengthAdjust="spacingAndGlyphs" style="font-family:'Liberation Serif',serif;font-size:15.4px;fill:#000">expanding</text>
<text id="l2" x="223.0" y="251.0" textLength="78.2" lengthAdjust="spacingAndGlyphs" style="font-family:'Liberation Serif',serif;font-size:15.4px;fill:#000">contracting</text>
<text x="158.4" y="265.6" textLength="61.1" lengthAdjust="spacingAndGlyphs" style="font-family:'Liberation Serif',serif;font-size:15.4px;fill:#000">envelope</text>
<text x="226.0" y="265.6" textLength="33.7" lengthAdjust="spacingAndGlyphs" style="font-family:'Liberation Serif',serif;font-size:15.4px;fill:#000">mass</text>
<text x="265.9" y="265.6" textLength="35.3" lengthAdjust="spacingAndGlyphs" style="font-family:'Liberation Serif',serif;font-size:15.4px;fill:#000">range</text>
<g transform="translate(192.4,304.8)"><text x="-57.4" y="0.0" textLength="50.9" lengthAdjust="spacingAndGlyphs" style="font-family:'Liberation Serif',serif;font-size:15.4px;fill:#000">He-core</text><text x="0.0" y="0.0" textLength="34.0" lengthAdjust="spacingAndGlyphs" style="font-family:'Liberation Serif',serif;font-size:15.4px;fill:#000">mass</text><text x="39.8" y="0.9" textLength="6.2" lengthAdjust="spacingAndGlyphs" style="font-family:'Liberation Serif',serif;font-size:15.4px;fill:#000;font-size:18.5px">(</text><text x="45.6" y="0.0" textLength="15.8" lengthAdjust="spacingAndGlyphs" font-style="italic" style="font-family:'Liberation Serif',serif;font-size:15.4px;fill:#000">M</text><circle cx="65.9" cy="-0.5" r="3.8" fill="none" stroke="#000" stroke-width="0.8"/><circle cx="65.9" cy="-0.5" r="0.8" fill="#000"/><text x="70.8" y="0.9" textLength="6.2" lengthAdjust="spacingAndGlyphs" style="font-family:'Liberation Serif',serif;font-size:15.4px;fill:#000;font-size:18.5px">)</text></g>
<g transform="translate(14.9,145.4) rotate(-90)"><text x="-68.3" y="0.0" textLength="61.8" lengthAdjust="spacingAndGlyphs" style="font-family:'Liberation Serif',serif;font-size:15.4px;fill:#000">Envelope</text><text x="0.0" y="0.0" textLength="34.0" lengthAdjust="spacingAndGlyphs" style="font-family:'Liberation Serif',serif;font-size:15.4px;fill:#000">mass</text><text x="39.8" y="0.9" textLength="6.2" lengthAdjust="spacingAndGlyphs" style="font-family:'Liberation Serif',serif;font-size:15.4px;fill:#000;font-size:18.5px">(</text><text x="45.6" y="0.0" textLength="15.8" lengthAdjust="spacingAndGlyphs" font-style="italic" style="font-family:'Liberation Serif',serif;font-size:15.4px;fill:#000">M</text><circle cx="65.9" cy="-0.5" r="3.8" fill="none" stroke="#000" stroke-width="0.8"/><circle cx="65.9" cy="-0.5" r="0.8" fill="#000"/><text x="70.8" y="0.9" textLength="6.2" lengthAdjust="spacingAndGlyphs" style="font-family:'Liberation Serif',serif;font-size:15.4px;fill:#000;font-size:18.5px">)</text></g>
<g transform="translate(410.0,137.0) rotate(-90)"><text x="-85.5" y="0.0" textLength="40.3" lengthAdjust="spacingAndGlyphs" style="font-family:'Liberation Serif',serif;font-size:15.4px;fill:#000">Initial</text><text x="0.0" y="0.0" textLength="34.0" lengthAdjust="spacingAndGlyphs" style="font-family:'Liberation Serif',serif;font-size:15.4px;fill:#000">mass</text><text x="39.8" y="0.9" textLength="6.2" lengthAdjust="spacingAndGlyphs" style="font-family:'Liberation Serif',serif;font-size:15.4px;fill:#000;font-size:18.5px">(</text><text x="45.6" y="0.0" textLength="15.8" lengthAdjust="spacingAndGlyphs" font-style="italic" style="font-family:'Liberation Serif',serif;font-size:15.4px;fill:#000">M</text><circle cx="65.9" cy="-0.5" r="3.8" fill="none" stroke="#000" stroke-width="0.8"/><circle cx="65.9" cy="-0.5" r="0.8" fill="#000"/><text x="70.8" y="0.9" textLength="6.2" lengthAdjust="spacingAndGlyphs" style="font-family:'Liberation Serif',serif;font-size:15.4px;fill:#000;font-size:18.5px">)</text><text x="-38.8" y="0.0" textLength="33.0" lengthAdjust="spacingAndGlyphs" style="font-family:'Liberation Serif',serif;font-size:15.4px;fill:#000">total</text></g>
</svg></body></html>
